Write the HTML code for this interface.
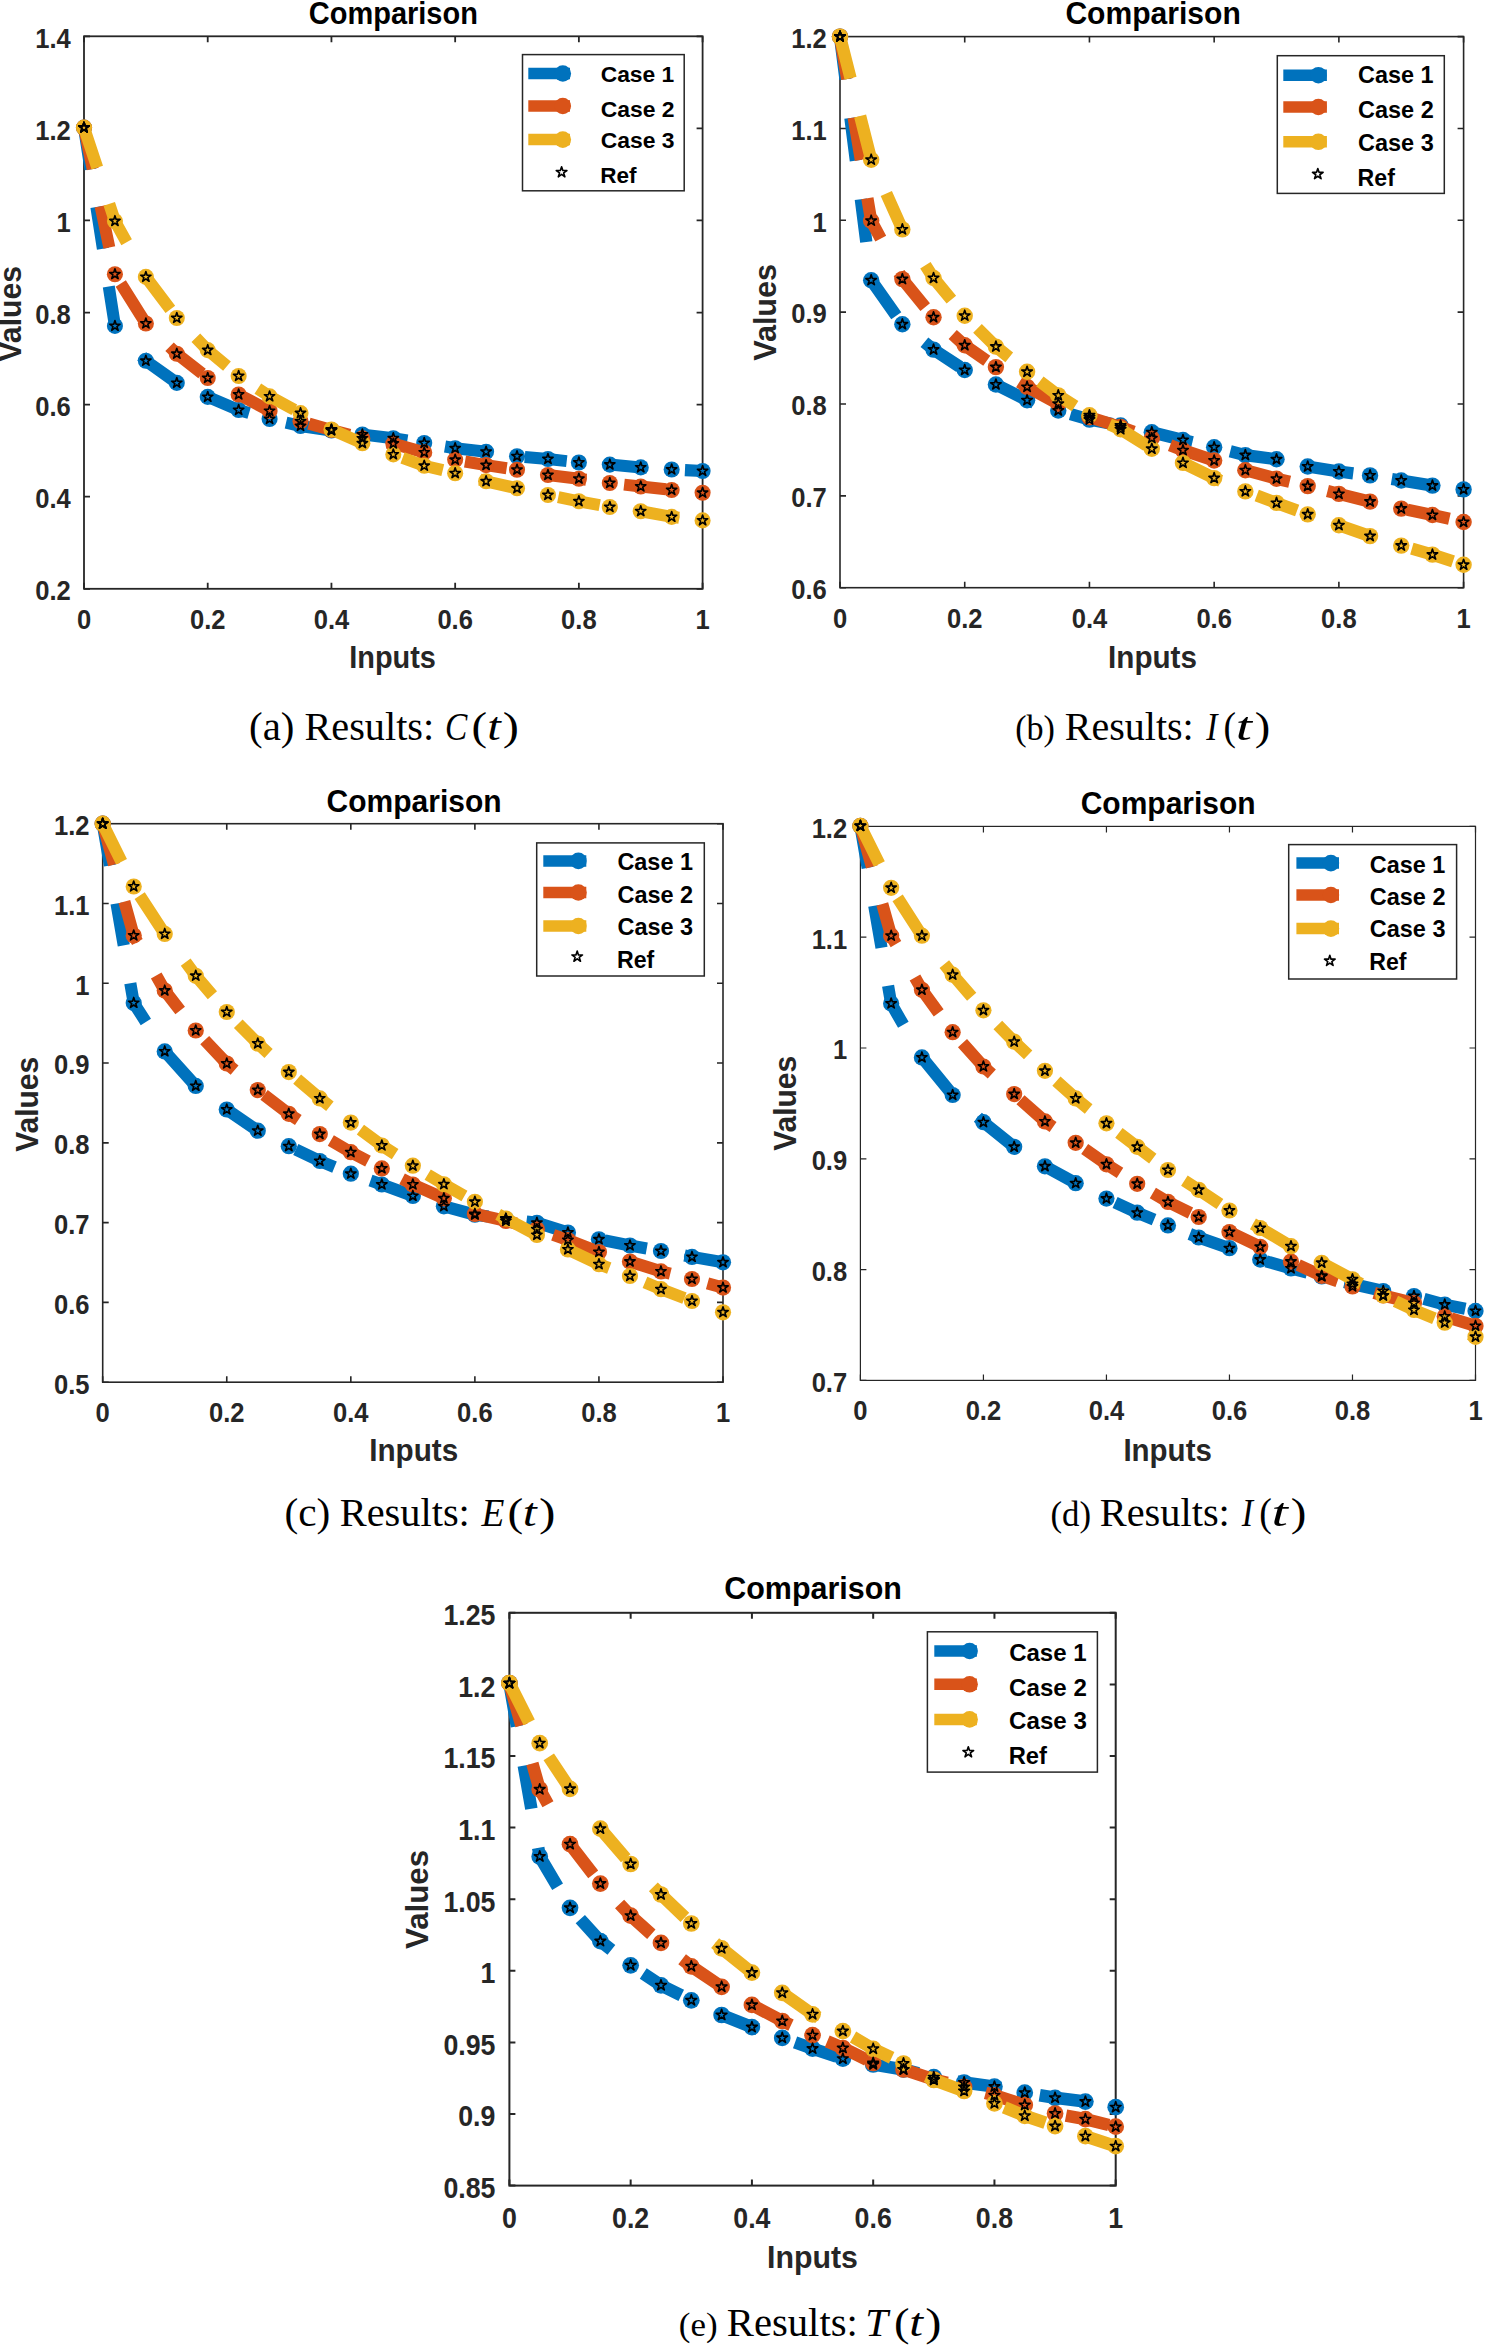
<!DOCTYPE html>
<html><head><meta charset="utf-8"><style>
html,body{margin:0;padding:0;background:#fff;}
svg{display:block;}
</style></head><body>
<svg width="1487" height="2345" viewBox="0 0 1487 2345">
<rect width="1487" height="2345" fill="#fff"/>
<rect x="84.00" y="36.30" width="618.60" height="552.50" fill="none" stroke="#262626" stroke-width="1.8"/>
<path d="M84.00,588.80V582.80M84.00,36.30V42.30M207.72,588.80V582.80M207.72,36.30V42.30M331.44,588.80V582.80M331.44,36.30V42.30M455.16,588.80V582.80M455.16,36.30V42.30M578.88,588.80V582.80M578.88,36.30V42.30M702.60,588.80V582.80M702.60,36.30V42.30M84.00,588.80H90.00M702.60,588.80H696.60M84.00,496.72H90.00M702.60,496.72H696.60M84.00,404.63H90.00M702.60,404.63H696.60M84.00,312.55H90.00M702.60,312.55H696.60M84.00,220.47H90.00M702.60,220.47H696.60M84.00,128.38H90.00M702.60,128.38H696.60M84.00,36.30H90.00M702.60,36.30H696.60" stroke="#262626" stroke-width="1.8" fill="none"/>
<polyline points="84.00,127.60 114.93,325.90 145.86,360.80 176.79,382.90 207.72,396.90 238.65,410.00 269.58,419.00 300.51,426.00 331.44,430.50 362.37,434.50 393.30,438.20 424.23,443.00 455.16,448.30 486.09,451.70 517.02,456.20 547.95,459.00 578.88,462.50 609.81,464.60 640.74,467.40 671.67,469.50 702.60,471.00" fill="none" stroke="#0072BD" stroke-width="12.06" stroke-dasharray="42.21 38.19" stroke-linecap="butt" stroke-linejoin="miter"/>
<circle cx="84.00" cy="127.60" r="8.04" fill="#0072BD"/>
<circle cx="114.93" cy="325.90" r="8.04" fill="#0072BD"/>
<circle cx="145.86" cy="360.80" r="8.04" fill="#0072BD"/>
<circle cx="176.79" cy="382.90" r="8.04" fill="#0072BD"/>
<circle cx="207.72" cy="396.90" r="8.04" fill="#0072BD"/>
<circle cx="238.65" cy="410.00" r="8.04" fill="#0072BD"/>
<circle cx="269.58" cy="419.00" r="8.04" fill="#0072BD"/>
<circle cx="300.51" cy="426.00" r="8.04" fill="#0072BD"/>
<circle cx="331.44" cy="430.50" r="8.04" fill="#0072BD"/>
<circle cx="362.37" cy="434.50" r="8.04" fill="#0072BD"/>
<circle cx="393.30" cy="438.20" r="8.04" fill="#0072BD"/>
<circle cx="424.23" cy="443.00" r="8.04" fill="#0072BD"/>
<circle cx="455.16" cy="448.30" r="8.04" fill="#0072BD"/>
<circle cx="486.09" cy="451.70" r="8.04" fill="#0072BD"/>
<circle cx="517.02" cy="456.20" r="8.04" fill="#0072BD"/>
<circle cx="547.95" cy="459.00" r="8.04" fill="#0072BD"/>
<circle cx="578.88" cy="462.50" r="8.04" fill="#0072BD"/>
<circle cx="609.81" cy="464.60" r="8.04" fill="#0072BD"/>
<circle cx="640.74" cy="467.40" r="8.04" fill="#0072BD"/>
<circle cx="671.67" cy="469.50" r="8.04" fill="#0072BD"/>
<circle cx="702.60" cy="471.00" r="8.04" fill="#0072BD"/>
<polyline points="84.00,127.60 114.93,274.20 145.86,323.50 176.79,353.80 207.72,378.00 238.65,394.50 269.58,410.90 300.51,421.30 331.44,430.00 362.37,438.40 393.30,443.60 424.23,452.40 455.16,459.80 486.09,465.10 517.02,469.70 547.95,475.00 578.88,478.70 609.81,483.00 640.74,486.50 671.67,490.00 702.60,492.80" fill="none" stroke="#D95319" stroke-width="12.06" stroke-dasharray="42.21 38.19" stroke-linecap="butt" stroke-linejoin="miter"/>
<circle cx="84.00" cy="127.60" r="8.04" fill="#D95319"/>
<circle cx="114.93" cy="274.20" r="8.04" fill="#D95319"/>
<circle cx="145.86" cy="323.50" r="8.04" fill="#D95319"/>
<circle cx="176.79" cy="353.80" r="8.04" fill="#D95319"/>
<circle cx="207.72" cy="378.00" r="8.04" fill="#D95319"/>
<circle cx="238.65" cy="394.50" r="8.04" fill="#D95319"/>
<circle cx="269.58" cy="410.90" r="8.04" fill="#D95319"/>
<circle cx="300.51" cy="421.30" r="8.04" fill="#D95319"/>
<circle cx="331.44" cy="430.00" r="8.04" fill="#D95319"/>
<circle cx="362.37" cy="438.40" r="8.04" fill="#D95319"/>
<circle cx="393.30" cy="443.60" r="8.04" fill="#D95319"/>
<circle cx="424.23" cy="452.40" r="8.04" fill="#D95319"/>
<circle cx="455.16" cy="459.80" r="8.04" fill="#D95319"/>
<circle cx="486.09" cy="465.10" r="8.04" fill="#D95319"/>
<circle cx="517.02" cy="469.70" r="8.04" fill="#D95319"/>
<circle cx="547.95" cy="475.00" r="8.04" fill="#D95319"/>
<circle cx="578.88" cy="478.70" r="8.04" fill="#D95319"/>
<circle cx="609.81" cy="483.00" r="8.04" fill="#D95319"/>
<circle cx="640.74" cy="486.50" r="8.04" fill="#D95319"/>
<circle cx="671.67" cy="490.00" r="8.04" fill="#D95319"/>
<circle cx="702.60" cy="492.80" r="8.04" fill="#D95319"/>
<polyline points="84.00,127.60 114.93,221.10 145.86,276.90 176.79,318.00 207.72,350.10 238.65,376.00 269.58,396.40 300.51,413.10 331.44,429.50 362.37,443.20 393.30,454.40 424.23,465.80 455.16,473.20 486.09,481.30 517.02,488.30 547.95,495.00 578.88,501.30 609.81,507.00 640.74,511.20 671.67,516.90 702.60,520.40" fill="none" stroke="#EDB120" stroke-width="12.06" stroke-dasharray="42.21 38.19" stroke-linecap="butt" stroke-linejoin="miter"/>
<circle cx="84.00" cy="127.60" r="8.04" fill="#EDB120"/>
<circle cx="114.93" cy="221.10" r="8.04" fill="#EDB120"/>
<circle cx="145.86" cy="276.90" r="8.04" fill="#EDB120"/>
<circle cx="176.79" cy="318.00" r="8.04" fill="#EDB120"/>
<circle cx="207.72" cy="350.10" r="8.04" fill="#EDB120"/>
<circle cx="238.65" cy="376.00" r="8.04" fill="#EDB120"/>
<circle cx="269.58" cy="396.40" r="8.04" fill="#EDB120"/>
<circle cx="300.51" cy="413.10" r="8.04" fill="#EDB120"/>
<circle cx="331.44" cy="429.50" r="8.04" fill="#EDB120"/>
<circle cx="362.37" cy="443.20" r="8.04" fill="#EDB120"/>
<circle cx="393.30" cy="454.40" r="8.04" fill="#EDB120"/>
<circle cx="424.23" cy="465.80" r="8.04" fill="#EDB120"/>
<circle cx="455.16" cy="473.20" r="8.04" fill="#EDB120"/>
<circle cx="486.09" cy="481.30" r="8.04" fill="#EDB120"/>
<circle cx="517.02" cy="488.30" r="8.04" fill="#EDB120"/>
<circle cx="547.95" cy="495.00" r="8.04" fill="#EDB120"/>
<circle cx="578.88" cy="501.30" r="8.04" fill="#EDB120"/>
<circle cx="609.81" cy="507.00" r="8.04" fill="#EDB120"/>
<circle cx="640.74" cy="511.20" r="8.04" fill="#EDB120"/>
<circle cx="671.67" cy="516.90" r="8.04" fill="#EDB120"/>
<circle cx="702.60" cy="520.40" r="8.04" fill="#EDB120"/>
<path d="M84.00,122.17 L85.22,125.92 L89.16,125.92 L85.97,128.24 L87.19,131.99 L84.00,129.67 L80.81,131.99 L82.03,128.24 L78.84,125.92 L82.78,125.92Z M114.93,320.47 L116.15,324.22 L120.09,324.22 L116.90,326.54 L118.12,330.29 L114.93,327.97 L111.74,330.29 L112.96,326.54 L109.77,324.22 L113.71,324.22Z M145.86,355.37 L147.08,359.12 L151.02,359.12 L147.83,361.44 L149.05,365.19 L145.86,362.87 L142.67,365.19 L143.89,361.44 L140.70,359.12 L144.64,359.12Z M176.79,377.47 L178.01,381.22 L181.95,381.22 L178.76,383.54 L179.98,387.29 L176.79,384.97 L173.60,387.29 L174.82,383.54 L171.63,381.22 L175.57,381.22Z M207.72,391.47 L208.94,395.22 L212.88,395.22 L209.69,397.54 L210.91,401.29 L207.72,398.97 L204.53,401.29 L205.75,397.54 L202.56,395.22 L206.50,395.22Z M238.65,404.57 L239.87,408.32 L243.81,408.32 L240.62,410.64 L241.84,414.39 L238.65,412.07 L235.46,414.39 L236.68,410.64 L233.49,408.32 L237.43,408.32Z M269.58,413.57 L270.80,417.32 L274.74,417.32 L271.55,419.64 L272.77,423.39 L269.58,421.07 L266.39,423.39 L267.61,419.64 L264.42,417.32 L268.36,417.32Z M300.51,420.57 L301.73,424.32 L305.67,424.32 L302.48,426.64 L303.70,430.39 L300.51,428.07 L297.32,430.39 L298.54,426.64 L295.35,424.32 L299.29,424.32Z M331.44,425.07 L332.66,428.82 L336.60,428.82 L333.41,431.14 L334.63,434.89 L331.44,432.57 L328.25,434.89 L329.47,431.14 L326.28,428.82 L330.22,428.82Z M362.37,429.07 L363.59,432.82 L367.53,432.82 L364.34,435.14 L365.56,438.89 L362.37,436.57 L359.18,438.89 L360.40,435.14 L357.21,432.82 L361.15,432.82Z M393.30,432.77 L394.52,436.52 L398.46,436.52 L395.27,438.84 L396.49,442.59 L393.30,440.27 L390.11,442.59 L391.33,438.84 L388.14,436.52 L392.08,436.52Z M424.23,437.57 L425.45,441.32 L429.39,441.32 L426.20,443.64 L427.42,447.39 L424.23,445.07 L421.04,447.39 L422.26,443.64 L419.07,441.32 L423.01,441.32Z M455.16,442.87 L456.38,446.62 L460.32,446.62 L457.13,448.94 L458.35,452.69 L455.16,450.37 L451.97,452.69 L453.19,448.94 L450.00,446.62 L453.94,446.62Z M486.09,446.27 L487.31,450.02 L491.25,450.02 L488.06,452.34 L489.28,456.09 L486.09,453.77 L482.90,456.09 L484.12,452.34 L480.93,450.02 L484.87,450.02Z M517.02,450.77 L518.24,454.52 L522.18,454.52 L518.99,456.84 L520.21,460.59 L517.02,458.27 L513.83,460.59 L515.05,456.84 L511.86,454.52 L515.80,454.52Z M547.95,453.57 L549.17,457.32 L553.11,457.32 L549.92,459.64 L551.14,463.39 L547.95,461.07 L544.76,463.39 L545.98,459.64 L542.79,457.32 L546.73,457.32Z M578.88,457.07 L580.10,460.82 L584.04,460.82 L580.85,463.14 L582.07,466.89 L578.88,464.57 L575.69,466.89 L576.91,463.14 L573.72,460.82 L577.66,460.82Z M609.81,459.17 L611.03,462.92 L614.97,462.92 L611.78,465.24 L613.00,468.99 L609.81,466.67 L606.62,468.99 L607.84,465.24 L604.65,462.92 L608.59,462.92Z M640.74,461.97 L641.96,465.72 L645.90,465.72 L642.71,468.04 L643.93,471.79 L640.74,469.47 L637.55,471.79 L638.77,468.04 L635.58,465.72 L639.52,465.72Z M671.67,464.07 L672.89,467.82 L676.83,467.82 L673.64,470.14 L674.86,473.89 L671.67,471.57 L668.48,473.89 L669.70,470.14 L666.51,467.82 L670.45,467.82Z M702.60,465.57 L703.82,469.32 L707.76,469.32 L704.57,471.64 L705.79,475.39 L702.60,473.07 L699.41,475.39 L700.63,471.64 L697.44,469.32 L701.38,469.32Z" fill="none" stroke="#000" stroke-width="1.6" stroke-linejoin="round"/>
<path d="M84.00,122.17 L85.22,125.92 L89.16,125.92 L85.97,128.24 L87.19,131.99 L84.00,129.67 L80.81,131.99 L82.03,128.24 L78.84,125.92 L82.78,125.92Z M114.93,268.77 L116.15,272.52 L120.09,272.52 L116.90,274.84 L118.12,278.59 L114.93,276.27 L111.74,278.59 L112.96,274.84 L109.77,272.52 L113.71,272.52Z M145.86,318.07 L147.08,321.82 L151.02,321.82 L147.83,324.14 L149.05,327.89 L145.86,325.57 L142.67,327.89 L143.89,324.14 L140.70,321.82 L144.64,321.82Z M176.79,348.37 L178.01,352.12 L181.95,352.12 L178.76,354.44 L179.98,358.19 L176.79,355.87 L173.60,358.19 L174.82,354.44 L171.63,352.12 L175.57,352.12Z M207.72,372.57 L208.94,376.32 L212.88,376.32 L209.69,378.64 L210.91,382.39 L207.72,380.07 L204.53,382.39 L205.75,378.64 L202.56,376.32 L206.50,376.32Z M238.65,389.07 L239.87,392.82 L243.81,392.82 L240.62,395.14 L241.84,398.89 L238.65,396.57 L235.46,398.89 L236.68,395.14 L233.49,392.82 L237.43,392.82Z M269.58,405.47 L270.80,409.22 L274.74,409.22 L271.55,411.54 L272.77,415.29 L269.58,412.97 L266.39,415.29 L267.61,411.54 L264.42,409.22 L268.36,409.22Z M300.51,415.87 L301.73,419.62 L305.67,419.62 L302.48,421.94 L303.70,425.69 L300.51,423.37 L297.32,425.69 L298.54,421.94 L295.35,419.62 L299.29,419.62Z M331.44,424.57 L332.66,428.32 L336.60,428.32 L333.41,430.64 L334.63,434.39 L331.44,432.07 L328.25,434.39 L329.47,430.64 L326.28,428.32 L330.22,428.32Z M362.37,432.97 L363.59,436.72 L367.53,436.72 L364.34,439.04 L365.56,442.79 L362.37,440.47 L359.18,442.79 L360.40,439.04 L357.21,436.72 L361.15,436.72Z M393.30,438.17 L394.52,441.92 L398.46,441.92 L395.27,444.24 L396.49,447.99 L393.30,445.67 L390.11,447.99 L391.33,444.24 L388.14,441.92 L392.08,441.92Z M424.23,446.97 L425.45,450.72 L429.39,450.72 L426.20,453.04 L427.42,456.79 L424.23,454.47 L421.04,456.79 L422.26,453.04 L419.07,450.72 L423.01,450.72Z M455.16,454.37 L456.38,458.12 L460.32,458.12 L457.13,460.44 L458.35,464.19 L455.16,461.87 L451.97,464.19 L453.19,460.44 L450.00,458.12 L453.94,458.12Z M486.09,459.67 L487.31,463.42 L491.25,463.42 L488.06,465.74 L489.28,469.49 L486.09,467.17 L482.90,469.49 L484.12,465.74 L480.93,463.42 L484.87,463.42Z M517.02,464.27 L518.24,468.02 L522.18,468.02 L518.99,470.34 L520.21,474.09 L517.02,471.77 L513.83,474.09 L515.05,470.34 L511.86,468.02 L515.80,468.02Z M547.95,469.57 L549.17,473.32 L553.11,473.32 L549.92,475.64 L551.14,479.39 L547.95,477.07 L544.76,479.39 L545.98,475.64 L542.79,473.32 L546.73,473.32Z M578.88,473.27 L580.10,477.02 L584.04,477.02 L580.85,479.34 L582.07,483.09 L578.88,480.77 L575.69,483.09 L576.91,479.34 L573.72,477.02 L577.66,477.02Z M609.81,477.57 L611.03,481.32 L614.97,481.32 L611.78,483.64 L613.00,487.39 L609.81,485.07 L606.62,487.39 L607.84,483.64 L604.65,481.32 L608.59,481.32Z M640.74,481.07 L641.96,484.82 L645.90,484.82 L642.71,487.14 L643.93,490.89 L640.74,488.57 L637.55,490.89 L638.77,487.14 L635.58,484.82 L639.52,484.82Z M671.67,484.57 L672.89,488.32 L676.83,488.32 L673.64,490.64 L674.86,494.39 L671.67,492.07 L668.48,494.39 L669.70,490.64 L666.51,488.32 L670.45,488.32Z M702.60,487.37 L703.82,491.12 L707.76,491.12 L704.57,493.44 L705.79,497.19 L702.60,494.87 L699.41,497.19 L700.63,493.44 L697.44,491.12 L701.38,491.12Z" fill="none" stroke="#000" stroke-width="1.6" stroke-linejoin="round"/>
<path d="M84.00,122.17 L85.22,125.92 L89.16,125.92 L85.97,128.24 L87.19,131.99 L84.00,129.67 L80.81,131.99 L82.03,128.24 L78.84,125.92 L82.78,125.92Z M114.93,215.67 L116.15,219.42 L120.09,219.42 L116.90,221.74 L118.12,225.49 L114.93,223.17 L111.74,225.49 L112.96,221.74 L109.77,219.42 L113.71,219.42Z M145.86,271.47 L147.08,275.22 L151.02,275.22 L147.83,277.54 L149.05,281.29 L145.86,278.97 L142.67,281.29 L143.89,277.54 L140.70,275.22 L144.64,275.22Z M176.79,312.57 L178.01,316.32 L181.95,316.32 L178.76,318.64 L179.98,322.39 L176.79,320.07 L173.60,322.39 L174.82,318.64 L171.63,316.32 L175.57,316.32Z M207.72,344.67 L208.94,348.42 L212.88,348.42 L209.69,350.74 L210.91,354.49 L207.72,352.17 L204.53,354.49 L205.75,350.74 L202.56,348.42 L206.50,348.42Z M238.65,370.57 L239.87,374.32 L243.81,374.32 L240.62,376.64 L241.84,380.39 L238.65,378.07 L235.46,380.39 L236.68,376.64 L233.49,374.32 L237.43,374.32Z M269.58,390.97 L270.80,394.72 L274.74,394.72 L271.55,397.04 L272.77,400.79 L269.58,398.47 L266.39,400.79 L267.61,397.04 L264.42,394.72 L268.36,394.72Z M300.51,407.67 L301.73,411.42 L305.67,411.42 L302.48,413.74 L303.70,417.49 L300.51,415.17 L297.32,417.49 L298.54,413.74 L295.35,411.42 L299.29,411.42Z M331.44,424.07 L332.66,427.82 L336.60,427.82 L333.41,430.14 L334.63,433.89 L331.44,431.57 L328.25,433.89 L329.47,430.14 L326.28,427.82 L330.22,427.82Z M362.37,437.77 L363.59,441.52 L367.53,441.52 L364.34,443.84 L365.56,447.59 L362.37,445.27 L359.18,447.59 L360.40,443.84 L357.21,441.52 L361.15,441.52Z M393.30,448.97 L394.52,452.72 L398.46,452.72 L395.27,455.04 L396.49,458.79 L393.30,456.47 L390.11,458.79 L391.33,455.04 L388.14,452.72 L392.08,452.72Z M424.23,460.37 L425.45,464.12 L429.39,464.12 L426.20,466.44 L427.42,470.19 L424.23,467.87 L421.04,470.19 L422.26,466.44 L419.07,464.12 L423.01,464.12Z M455.16,467.77 L456.38,471.52 L460.32,471.52 L457.13,473.84 L458.35,477.59 L455.16,475.27 L451.97,477.59 L453.19,473.84 L450.00,471.52 L453.94,471.52Z M486.09,475.87 L487.31,479.62 L491.25,479.62 L488.06,481.94 L489.28,485.69 L486.09,483.37 L482.90,485.69 L484.12,481.94 L480.93,479.62 L484.87,479.62Z M517.02,482.87 L518.24,486.62 L522.18,486.62 L518.99,488.94 L520.21,492.69 L517.02,490.37 L513.83,492.69 L515.05,488.94 L511.86,486.62 L515.80,486.62Z M547.95,489.57 L549.17,493.32 L553.11,493.32 L549.92,495.64 L551.14,499.39 L547.95,497.07 L544.76,499.39 L545.98,495.64 L542.79,493.32 L546.73,493.32Z M578.88,495.87 L580.10,499.62 L584.04,499.62 L580.85,501.94 L582.07,505.69 L578.88,503.37 L575.69,505.69 L576.91,501.94 L573.72,499.62 L577.66,499.62Z M609.81,501.57 L611.03,505.32 L614.97,505.32 L611.78,507.64 L613.00,511.39 L609.81,509.07 L606.62,511.39 L607.84,507.64 L604.65,505.32 L608.59,505.32Z M640.74,505.77 L641.96,509.52 L645.90,509.52 L642.71,511.84 L643.93,515.59 L640.74,513.27 L637.55,515.59 L638.77,511.84 L635.58,509.52 L639.52,509.52Z M671.67,511.47 L672.89,515.22 L676.83,515.22 L673.64,517.54 L674.86,521.29 L671.67,518.97 L668.48,521.29 L669.70,517.54 L666.51,515.22 L670.45,515.22Z M702.60,514.97 L703.82,518.72 L707.76,518.72 L704.57,521.04 L705.79,524.79 L702.60,522.47 L699.41,524.79 L700.63,521.04 L697.44,518.72 L701.38,518.72Z" fill="none" stroke="#000" stroke-width="1.6" stroke-linejoin="round"/>
<rect x="522.50" y="54.60" width="161.70" height="136.20" fill="#fff" stroke="#262626" stroke-width="1.5"/>
<line x1="528.30" y1="73.50" x2="570.00" y2="73.50" stroke="#0072BD" stroke-width="11.5"/>
<circle cx="562.80" cy="73.50" r="8.3" fill="#0072BD"/>
<line x1="528.30" y1="106.00" x2="570.00" y2="106.00" stroke="#D95319" stroke-width="11.5"/>
<circle cx="562.80" cy="106.00" r="8.3" fill="#D95319"/>
<line x1="528.30" y1="139.60" x2="570.00" y2="139.60" stroke="#EDB120" stroke-width="11.5"/>
<circle cx="562.80" cy="139.60" r="8.3" fill="#EDB120"/>
<path d="M561.60,166.70 L562.86,170.57 L566.93,170.57 L563.63,172.96 L564.89,176.83 L561.60,174.44 L558.31,176.83 L559.57,172.96 L556.27,170.57 L560.34,170.57Z" fill="none" stroke="#000" stroke-width="1.6" stroke-linejoin="round"/>
<rect x="840.00" y="36.60" width="623.60" height="551.10" fill="none" stroke="#262626" stroke-width="1.6"/>
<path d="M840.00,587.70V581.70M840.00,36.60V42.60M964.72,587.70V581.70M964.72,36.60V42.60M1089.44,587.70V581.70M1089.44,36.60V42.60M1214.16,587.70V581.70M1214.16,36.60V42.60M1338.88,587.70V581.70M1338.88,36.60V42.60M1463.60,587.70V581.70M1463.60,36.60V42.60M840.00,587.70H846.00M1463.60,587.70H1457.60M840.00,495.85H846.00M1463.60,495.85H1457.60M840.00,404.00H846.00M1463.60,404.00H1457.60M840.00,312.15H846.00M1463.60,312.15H1457.60M840.00,220.30H846.00M1463.60,220.30H1457.60M840.00,128.45H846.00M1463.60,128.45H1457.60M840.00,36.60H846.00M1463.60,36.60H1457.60" stroke="#262626" stroke-width="1.6" fill="none"/>
<polyline points="840.00,36.60 871.18,280.20 902.36,324.30 933.54,349.60 964.72,370.00 995.90,384.50 1027.08,400.20 1058.26,410.50 1089.44,419.60 1120.62,425.50 1151.80,432.20 1182.98,440.00 1214.16,447.20 1245.34,455.10 1276.52,459.30 1307.70,466.50 1338.88,471.50 1370.06,475.40 1401.24,480.50 1432.42,485.60 1463.60,489.40" fill="none" stroke="#0072BD" stroke-width="12.30" stroke-dasharray="43.05 38.95" stroke-linecap="butt" stroke-linejoin="miter"/>
<circle cx="840.00" cy="36.60" r="8.20" fill="#0072BD"/>
<circle cx="871.18" cy="280.20" r="8.20" fill="#0072BD"/>
<circle cx="902.36" cy="324.30" r="8.20" fill="#0072BD"/>
<circle cx="933.54" cy="349.60" r="8.20" fill="#0072BD"/>
<circle cx="964.72" cy="370.00" r="8.20" fill="#0072BD"/>
<circle cx="995.90" cy="384.50" r="8.20" fill="#0072BD"/>
<circle cx="1027.08" cy="400.20" r="8.20" fill="#0072BD"/>
<circle cx="1058.26" cy="410.50" r="8.20" fill="#0072BD"/>
<circle cx="1089.44" cy="419.60" r="8.20" fill="#0072BD"/>
<circle cx="1120.62" cy="425.50" r="8.20" fill="#0072BD"/>
<circle cx="1151.80" cy="432.20" r="8.20" fill="#0072BD"/>
<circle cx="1182.98" cy="440.00" r="8.20" fill="#0072BD"/>
<circle cx="1214.16" cy="447.20" r="8.20" fill="#0072BD"/>
<circle cx="1245.34" cy="455.10" r="8.20" fill="#0072BD"/>
<circle cx="1276.52" cy="459.30" r="8.20" fill="#0072BD"/>
<circle cx="1307.70" cy="466.50" r="8.20" fill="#0072BD"/>
<circle cx="1338.88" cy="471.50" r="8.20" fill="#0072BD"/>
<circle cx="1370.06" cy="475.40" r="8.20" fill="#0072BD"/>
<circle cx="1401.24" cy="480.50" r="8.20" fill="#0072BD"/>
<circle cx="1432.42" cy="485.60" r="8.20" fill="#0072BD"/>
<circle cx="1463.60" cy="489.40" r="8.20" fill="#0072BD"/>
<polyline points="840.00,36.60 871.18,220.70 902.36,279.10 933.54,317.30 964.72,345.30 995.90,367.10 1027.08,386.90 1058.26,403.80 1089.44,417.20 1120.62,427.00 1151.80,438.20 1182.98,450.20 1214.16,460.50 1245.34,470.20 1276.52,478.70 1307.70,486.10 1338.88,493.90 1370.06,501.60 1401.24,508.60 1432.42,515.00 1463.60,522.00" fill="none" stroke="#D95319" stroke-width="12.30" stroke-dasharray="43.05 38.95" stroke-linecap="butt" stroke-linejoin="miter"/>
<circle cx="840.00" cy="36.60" r="8.20" fill="#D95319"/>
<circle cx="871.18" cy="220.70" r="8.20" fill="#D95319"/>
<circle cx="902.36" cy="279.10" r="8.20" fill="#D95319"/>
<circle cx="933.54" cy="317.30" r="8.20" fill="#D95319"/>
<circle cx="964.72" cy="345.30" r="8.20" fill="#D95319"/>
<circle cx="995.90" cy="367.10" r="8.20" fill="#D95319"/>
<circle cx="1027.08" cy="386.90" r="8.20" fill="#D95319"/>
<circle cx="1058.26" cy="403.80" r="8.20" fill="#D95319"/>
<circle cx="1089.44" cy="417.20" r="8.20" fill="#D95319"/>
<circle cx="1120.62" cy="427.00" r="8.20" fill="#D95319"/>
<circle cx="1151.80" cy="438.20" r="8.20" fill="#D95319"/>
<circle cx="1182.98" cy="450.20" r="8.20" fill="#D95319"/>
<circle cx="1214.16" cy="460.50" r="8.20" fill="#D95319"/>
<circle cx="1245.34" cy="470.20" r="8.20" fill="#D95319"/>
<circle cx="1276.52" cy="478.70" r="8.20" fill="#D95319"/>
<circle cx="1307.70" cy="486.10" r="8.20" fill="#D95319"/>
<circle cx="1338.88" cy="493.90" r="8.20" fill="#D95319"/>
<circle cx="1370.06" cy="501.60" r="8.20" fill="#D95319"/>
<circle cx="1401.24" cy="508.60" r="8.20" fill="#D95319"/>
<circle cx="1432.42" cy="515.00" r="8.20" fill="#D95319"/>
<circle cx="1463.60" cy="522.00" r="8.20" fill="#D95319"/>
<polyline points="840.00,36.60 871.18,159.70 902.36,229.40 933.54,278.00 964.72,315.70 995.90,346.60 1027.08,371.80 1058.26,395.40 1089.44,415.30 1120.62,429.30 1151.80,448.80 1182.98,462.90 1214.16,478.10 1245.34,491.40 1276.52,502.90 1307.70,514.35 1338.88,525.20 1370.06,536.10 1401.24,545.60 1432.42,554.60 1463.60,564.80" fill="none" stroke="#EDB120" stroke-width="12.30" stroke-dasharray="43.05 38.95" stroke-linecap="butt" stroke-linejoin="miter"/>
<circle cx="840.00" cy="36.60" r="8.20" fill="#EDB120"/>
<circle cx="871.18" cy="159.70" r="8.20" fill="#EDB120"/>
<circle cx="902.36" cy="229.40" r="8.20" fill="#EDB120"/>
<circle cx="933.54" cy="278.00" r="8.20" fill="#EDB120"/>
<circle cx="964.72" cy="315.70" r="8.20" fill="#EDB120"/>
<circle cx="995.90" cy="346.60" r="8.20" fill="#EDB120"/>
<circle cx="1027.08" cy="371.80" r="8.20" fill="#EDB120"/>
<circle cx="1058.26" cy="395.40" r="8.20" fill="#EDB120"/>
<circle cx="1089.44" cy="415.30" r="8.20" fill="#EDB120"/>
<circle cx="1120.62" cy="429.30" r="8.20" fill="#EDB120"/>
<circle cx="1151.80" cy="448.80" r="8.20" fill="#EDB120"/>
<circle cx="1182.98" cy="462.90" r="8.20" fill="#EDB120"/>
<circle cx="1214.16" cy="478.10" r="8.20" fill="#EDB120"/>
<circle cx="1245.34" cy="491.40" r="8.20" fill="#EDB120"/>
<circle cx="1276.52" cy="502.90" r="8.20" fill="#EDB120"/>
<circle cx="1307.70" cy="514.35" r="8.20" fill="#EDB120"/>
<circle cx="1338.88" cy="525.20" r="8.20" fill="#EDB120"/>
<circle cx="1370.06" cy="536.10" r="8.20" fill="#EDB120"/>
<circle cx="1401.24" cy="545.60" r="8.20" fill="#EDB120"/>
<circle cx="1432.42" cy="554.60" r="8.20" fill="#EDB120"/>
<circle cx="1463.60" cy="564.80" r="8.20" fill="#EDB120"/>
<path d="M840.00,31.07 L841.24,34.89 L845.26,34.89 L842.01,37.25 L843.25,41.08 L840.00,38.71 L836.75,41.08 L837.99,37.25 L834.74,34.89 L838.76,34.89Z M871.18,274.66 L872.42,278.49 L876.44,278.49 L873.19,280.85 L874.43,284.68 L871.18,282.31 L867.93,284.68 L869.17,280.85 L865.92,278.49 L869.94,278.49Z M902.36,318.76 L903.60,322.59 L907.62,322.59 L904.37,324.95 L905.61,328.78 L902.36,326.41 L899.11,328.78 L900.35,324.95 L897.10,322.59 L901.12,322.59Z M933.54,344.06 L934.78,347.89 L938.80,347.89 L935.55,350.25 L936.79,354.08 L933.54,351.71 L930.29,354.08 L931.53,350.25 L928.28,347.89 L932.30,347.89Z M964.72,364.46 L965.96,368.29 L969.98,368.29 L966.73,370.65 L967.97,374.48 L964.72,372.11 L961.47,374.48 L962.71,370.65 L959.46,368.29 L963.48,368.29Z M995.90,378.96 L997.14,382.79 L1001.16,382.79 L997.91,385.15 L999.15,388.98 L995.90,386.61 L992.65,388.98 L993.89,385.15 L990.64,382.79 L994.66,382.79Z M1027.08,394.66 L1028.32,398.49 L1032.34,398.49 L1029.09,400.85 L1030.33,404.68 L1027.08,402.31 L1023.83,404.68 L1025.07,400.85 L1021.82,398.49 L1025.84,398.49Z M1058.26,404.96 L1059.50,408.79 L1063.52,408.79 L1060.27,411.15 L1061.51,414.98 L1058.26,412.61 L1055.01,414.98 L1056.25,411.15 L1053.00,408.79 L1057.02,408.79Z M1089.44,414.06 L1090.68,417.89 L1094.70,417.89 L1091.45,420.25 L1092.69,424.08 L1089.44,421.71 L1086.19,424.08 L1087.43,420.25 L1084.18,417.89 L1088.20,417.89Z M1120.62,419.96 L1121.86,423.79 L1125.88,423.79 L1122.63,426.15 L1123.87,429.98 L1120.62,427.61 L1117.37,429.98 L1118.61,426.15 L1115.36,423.79 L1119.38,423.79Z M1151.80,426.66 L1153.04,430.49 L1157.06,430.49 L1153.81,432.85 L1155.05,436.68 L1151.80,434.31 L1148.55,436.68 L1149.79,432.85 L1146.54,430.49 L1150.56,430.49Z M1182.98,434.46 L1184.22,438.29 L1188.24,438.29 L1184.99,440.65 L1186.23,444.48 L1182.98,442.11 L1179.73,444.48 L1180.97,440.65 L1177.72,438.29 L1181.74,438.29Z M1214.16,441.66 L1215.40,445.49 L1219.42,445.49 L1216.17,447.85 L1217.41,451.68 L1214.16,449.31 L1210.91,451.68 L1212.15,447.85 L1208.90,445.49 L1212.92,445.49Z M1245.34,449.56 L1246.58,453.39 L1250.60,453.39 L1247.35,455.75 L1248.59,459.58 L1245.34,457.21 L1242.09,459.58 L1243.33,455.75 L1240.08,453.39 L1244.10,453.39Z M1276.52,453.76 L1277.76,457.59 L1281.78,457.59 L1278.53,459.95 L1279.77,463.78 L1276.52,461.41 L1273.27,463.78 L1274.51,459.95 L1271.26,457.59 L1275.28,457.59Z M1307.70,460.96 L1308.94,464.79 L1312.96,464.79 L1309.71,467.15 L1310.95,470.98 L1307.70,468.61 L1304.45,470.98 L1305.69,467.15 L1302.44,464.79 L1306.46,464.79Z M1338.88,465.96 L1340.12,469.79 L1344.14,469.79 L1340.89,472.15 L1342.13,475.98 L1338.88,473.61 L1335.63,475.98 L1336.87,472.15 L1333.62,469.79 L1337.64,469.79Z M1370.06,469.86 L1371.30,473.69 L1375.32,473.69 L1372.07,476.05 L1373.31,479.88 L1370.06,477.51 L1366.81,479.88 L1368.05,476.05 L1364.80,473.69 L1368.82,473.69Z M1401.24,474.96 L1402.48,478.79 L1406.50,478.79 L1403.25,481.15 L1404.49,484.98 L1401.24,482.61 L1397.99,484.98 L1399.23,481.15 L1395.98,478.79 L1400.00,478.79Z M1432.42,480.06 L1433.66,483.89 L1437.68,483.89 L1434.43,486.25 L1435.67,490.08 L1432.42,487.71 L1429.17,490.08 L1430.41,486.25 L1427.16,483.89 L1431.18,483.89Z M1463.60,483.86 L1464.84,487.69 L1468.86,487.69 L1465.61,490.05 L1466.85,493.88 L1463.60,491.51 L1460.35,493.88 L1461.59,490.05 L1458.34,487.69 L1462.36,487.69Z" fill="none" stroke="#000" stroke-width="1.6" stroke-linejoin="round"/>
<path d="M840.00,31.07 L841.24,34.89 L845.26,34.89 L842.01,37.25 L843.25,41.08 L840.00,38.71 L836.75,41.08 L837.99,37.25 L834.74,34.89 L838.76,34.89Z M871.18,215.16 L872.42,218.99 L876.44,218.99 L873.19,221.35 L874.43,225.18 L871.18,222.81 L867.93,225.18 L869.17,221.35 L865.92,218.99 L869.94,218.99Z M902.36,273.56 L903.60,277.39 L907.62,277.39 L904.37,279.75 L905.61,283.58 L902.36,281.21 L899.11,283.58 L900.35,279.75 L897.10,277.39 L901.12,277.39Z M933.54,311.76 L934.78,315.59 L938.80,315.59 L935.55,317.95 L936.79,321.78 L933.54,319.41 L930.29,321.78 L931.53,317.95 L928.28,315.59 L932.30,315.59Z M964.72,339.76 L965.96,343.59 L969.98,343.59 L966.73,345.95 L967.97,349.78 L964.72,347.41 L961.47,349.78 L962.71,345.95 L959.46,343.59 L963.48,343.59Z M995.90,361.56 L997.14,365.39 L1001.16,365.39 L997.91,367.75 L999.15,371.58 L995.90,369.21 L992.65,371.58 L993.89,367.75 L990.64,365.39 L994.66,365.39Z M1027.08,381.36 L1028.32,385.19 L1032.34,385.19 L1029.09,387.55 L1030.33,391.38 L1027.08,389.01 L1023.83,391.38 L1025.07,387.55 L1021.82,385.19 L1025.84,385.19Z M1058.26,398.26 L1059.50,402.09 L1063.52,402.09 L1060.27,404.45 L1061.51,408.28 L1058.26,405.91 L1055.01,408.28 L1056.25,404.45 L1053.00,402.09 L1057.02,402.09Z M1089.44,411.66 L1090.68,415.49 L1094.70,415.49 L1091.45,417.85 L1092.69,421.68 L1089.44,419.31 L1086.19,421.68 L1087.43,417.85 L1084.18,415.49 L1088.20,415.49Z M1120.62,421.46 L1121.86,425.29 L1125.88,425.29 L1122.63,427.65 L1123.87,431.48 L1120.62,429.11 L1117.37,431.48 L1118.61,427.65 L1115.36,425.29 L1119.38,425.29Z M1151.80,432.66 L1153.04,436.49 L1157.06,436.49 L1153.81,438.85 L1155.05,442.68 L1151.80,440.31 L1148.55,442.68 L1149.79,438.85 L1146.54,436.49 L1150.56,436.49Z M1182.98,444.66 L1184.22,448.49 L1188.24,448.49 L1184.99,450.85 L1186.23,454.68 L1182.98,452.31 L1179.73,454.68 L1180.97,450.85 L1177.72,448.49 L1181.74,448.49Z M1214.16,454.96 L1215.40,458.79 L1219.42,458.79 L1216.17,461.15 L1217.41,464.98 L1214.16,462.61 L1210.91,464.98 L1212.15,461.15 L1208.90,458.79 L1212.92,458.79Z M1245.34,464.66 L1246.58,468.49 L1250.60,468.49 L1247.35,470.85 L1248.59,474.68 L1245.34,472.31 L1242.09,474.68 L1243.33,470.85 L1240.08,468.49 L1244.10,468.49Z M1276.52,473.16 L1277.76,476.99 L1281.78,476.99 L1278.53,479.35 L1279.77,483.18 L1276.52,480.81 L1273.27,483.18 L1274.51,479.35 L1271.26,476.99 L1275.28,476.99Z M1307.70,480.56 L1308.94,484.39 L1312.96,484.39 L1309.71,486.75 L1310.95,490.58 L1307.70,488.21 L1304.45,490.58 L1305.69,486.75 L1302.44,484.39 L1306.46,484.39Z M1338.88,488.36 L1340.12,492.19 L1344.14,492.19 L1340.89,494.55 L1342.13,498.38 L1338.88,496.01 L1335.63,498.38 L1336.87,494.55 L1333.62,492.19 L1337.64,492.19Z M1370.06,496.06 L1371.30,499.89 L1375.32,499.89 L1372.07,502.25 L1373.31,506.08 L1370.06,503.71 L1366.81,506.08 L1368.05,502.25 L1364.80,499.89 L1368.82,499.89Z M1401.24,503.06 L1402.48,506.89 L1406.50,506.89 L1403.25,509.25 L1404.49,513.08 L1401.24,510.71 L1397.99,513.08 L1399.23,509.25 L1395.98,506.89 L1400.00,506.89Z M1432.42,509.46 L1433.66,513.29 L1437.68,513.29 L1434.43,515.65 L1435.67,519.48 L1432.42,517.11 L1429.17,519.48 L1430.41,515.65 L1427.16,513.29 L1431.18,513.29Z M1463.60,516.47 L1464.84,520.29 L1468.86,520.29 L1465.61,522.65 L1466.85,526.48 L1463.60,524.11 L1460.35,526.48 L1461.59,522.65 L1458.34,520.29 L1462.36,520.29Z" fill="none" stroke="#000" stroke-width="1.6" stroke-linejoin="round"/>
<path d="M840.00,31.07 L841.24,34.89 L845.26,34.89 L842.01,37.25 L843.25,41.08 L840.00,38.71 L836.75,41.08 L837.99,37.25 L834.74,34.89 L838.76,34.89Z M871.18,154.16 L872.42,157.99 L876.44,157.99 L873.19,160.35 L874.43,164.18 L871.18,161.81 L867.93,164.18 L869.17,160.35 L865.92,157.99 L869.94,157.99Z M902.36,223.87 L903.60,227.69 L907.62,227.69 L904.37,230.05 L905.61,233.88 L902.36,231.51 L899.11,233.88 L900.35,230.05 L897.10,227.69 L901.12,227.69Z M933.54,272.46 L934.78,276.29 L938.80,276.29 L935.55,278.65 L936.79,282.48 L933.54,280.11 L930.29,282.48 L931.53,278.65 L928.28,276.29 L932.30,276.29Z M964.72,310.16 L965.96,313.99 L969.98,313.99 L966.73,316.35 L967.97,320.18 L964.72,317.81 L961.47,320.18 L962.71,316.35 L959.46,313.99 L963.48,313.99Z M995.90,341.06 L997.14,344.89 L1001.16,344.89 L997.91,347.25 L999.15,351.08 L995.90,348.71 L992.65,351.08 L993.89,347.25 L990.64,344.89 L994.66,344.89Z M1027.08,366.26 L1028.32,370.09 L1032.34,370.09 L1029.09,372.45 L1030.33,376.28 L1027.08,373.91 L1023.83,376.28 L1025.07,372.45 L1021.82,370.09 L1025.84,370.09Z M1058.26,389.86 L1059.50,393.69 L1063.52,393.69 L1060.27,396.05 L1061.51,399.88 L1058.26,397.51 L1055.01,399.88 L1056.25,396.05 L1053.00,393.69 L1057.02,393.69Z M1089.44,409.76 L1090.68,413.59 L1094.70,413.59 L1091.45,415.95 L1092.69,419.78 L1089.44,417.41 L1086.19,419.78 L1087.43,415.95 L1084.18,413.59 L1088.20,413.59Z M1120.62,423.76 L1121.86,427.59 L1125.88,427.59 L1122.63,429.95 L1123.87,433.78 L1120.62,431.41 L1117.37,433.78 L1118.61,429.95 L1115.36,427.59 L1119.38,427.59Z M1151.80,443.26 L1153.04,447.09 L1157.06,447.09 L1153.81,449.45 L1155.05,453.28 L1151.80,450.91 L1148.55,453.28 L1149.79,449.45 L1146.54,447.09 L1150.56,447.09Z M1182.98,457.36 L1184.22,461.19 L1188.24,461.19 L1184.99,463.55 L1186.23,467.38 L1182.98,465.01 L1179.73,467.38 L1180.97,463.55 L1177.72,461.19 L1181.74,461.19Z M1214.16,472.56 L1215.40,476.39 L1219.42,476.39 L1216.17,478.75 L1217.41,482.58 L1214.16,480.21 L1210.91,482.58 L1212.15,478.75 L1208.90,476.39 L1212.92,476.39Z M1245.34,485.86 L1246.58,489.69 L1250.60,489.69 L1247.35,492.05 L1248.59,495.88 L1245.34,493.51 L1242.09,495.88 L1243.33,492.05 L1240.08,489.69 L1244.10,489.69Z M1276.52,497.36 L1277.76,501.19 L1281.78,501.19 L1278.53,503.55 L1279.77,507.38 L1276.52,505.01 L1273.27,507.38 L1274.51,503.55 L1271.26,501.19 L1275.28,501.19Z M1307.70,508.81 L1308.94,512.64 L1312.96,512.64 L1309.71,515.00 L1310.95,518.83 L1307.70,516.46 L1304.45,518.83 L1305.69,515.00 L1302.44,512.64 L1306.46,512.64Z M1338.88,519.67 L1340.12,523.49 L1344.14,523.49 L1340.89,525.85 L1342.13,529.68 L1338.88,527.31 L1335.63,529.68 L1336.87,525.85 L1333.62,523.49 L1337.64,523.49Z M1370.06,530.57 L1371.30,534.39 L1375.32,534.39 L1372.07,536.75 L1373.31,540.58 L1370.06,538.21 L1366.81,540.58 L1368.05,536.75 L1364.80,534.39 L1368.82,534.39Z M1401.24,540.07 L1402.48,543.89 L1406.50,543.89 L1403.25,546.25 L1404.49,550.08 L1401.24,547.71 L1397.99,550.08 L1399.23,546.25 L1395.98,543.89 L1400.00,543.89Z M1432.42,549.07 L1433.66,552.89 L1437.68,552.89 L1434.43,555.25 L1435.67,559.08 L1432.42,556.71 L1429.17,559.08 L1430.41,555.25 L1427.16,552.89 L1431.18,552.89Z M1463.60,559.26 L1464.84,563.09 L1468.86,563.09 L1465.61,565.45 L1466.85,569.28 L1463.60,566.91 L1460.35,569.28 L1461.59,565.45 L1458.34,563.09 L1462.36,563.09Z" fill="none" stroke="#000" stroke-width="1.6" stroke-linejoin="round"/>
<rect x="1277.30" y="55.70" width="167.00" height="137.70" fill="#fff" stroke="#262626" stroke-width="1.5"/>
<line x1="1283.30" y1="75.20" x2="1326.90" y2="75.20" stroke="#0072BD" stroke-width="11.5"/>
<circle cx="1318.40" cy="75.20" r="8.3" fill="#0072BD"/>
<line x1="1283.30" y1="107.00" x2="1326.90" y2="107.00" stroke="#D95319" stroke-width="11.5"/>
<circle cx="1318.40" cy="107.00" r="8.3" fill="#D95319"/>
<line x1="1283.30" y1="141.80" x2="1326.90" y2="141.80" stroke="#EDB120" stroke-width="11.5"/>
<circle cx="1318.40" cy="141.80" r="8.3" fill="#EDB120"/>
<path d="M1317.80,168.50 L1319.06,172.37 L1323.13,172.37 L1319.83,174.76 L1321.09,178.63 L1317.80,176.24 L1314.51,178.63 L1315.77,174.76 L1312.47,172.37 L1316.54,172.37Z" fill="none" stroke="#000" stroke-width="1.6" stroke-linejoin="round"/>
<rect x="102.70" y="823.70" width="620.30" height="558.50" fill="none" stroke="#262626" stroke-width="1.6"/>
<path d="M102.70,1382.20V1376.20M102.70,823.70V829.70M226.76,1382.20V1376.20M226.76,823.70V829.70M350.82,1382.20V1376.20M350.82,823.70V829.70M474.88,1382.20V1376.20M474.88,823.70V829.70M598.94,1382.20V1376.20M598.94,823.70V829.70M723.00,1382.20V1376.20M723.00,823.70V829.70M102.70,1382.20H108.70M723.00,1382.20H717.00M102.70,1302.41H108.70M723.00,1302.41H717.00M102.70,1222.63H108.70M723.00,1222.63H717.00M102.70,1142.84H108.70M723.00,1142.84H717.00M102.70,1063.06H108.70M723.00,1063.06H717.00M102.70,983.27H108.70M723.00,983.27H717.00M102.70,903.49H108.70M723.00,903.49H717.00M102.70,823.70H108.70M723.00,823.70H717.00" stroke="#262626" stroke-width="1.6" fill="none"/>
<polyline points="102.70,823.70 133.72,1002.90 164.73,1051.40 195.75,1085.90 226.76,1109.50 257.77,1130.70 288.79,1146.20 319.80,1161.00 350.82,1173.70 381.83,1184.50 412.85,1195.90 443.87,1206.30 474.88,1214.70 505.89,1219.00 536.91,1222.80 567.92,1232.50 598.94,1239.30 629.96,1245.50 660.97,1251.00 691.99,1256.90 723.00,1262.30" fill="none" stroke="#0072BD" stroke-width="12.14" stroke-dasharray="42.50 38.46" stroke-linecap="butt" stroke-linejoin="miter"/>
<circle cx="102.70" cy="823.70" r="8.10" fill="#0072BD"/>
<circle cx="133.72" cy="1002.90" r="8.10" fill="#0072BD"/>
<circle cx="164.73" cy="1051.40" r="8.10" fill="#0072BD"/>
<circle cx="195.75" cy="1085.90" r="8.10" fill="#0072BD"/>
<circle cx="226.76" cy="1109.50" r="8.10" fill="#0072BD"/>
<circle cx="257.77" cy="1130.70" r="8.10" fill="#0072BD"/>
<circle cx="288.79" cy="1146.20" r="8.10" fill="#0072BD"/>
<circle cx="319.80" cy="1161.00" r="8.10" fill="#0072BD"/>
<circle cx="350.82" cy="1173.70" r="8.10" fill="#0072BD"/>
<circle cx="381.83" cy="1184.50" r="8.10" fill="#0072BD"/>
<circle cx="412.85" cy="1195.90" r="8.10" fill="#0072BD"/>
<circle cx="443.87" cy="1206.30" r="8.10" fill="#0072BD"/>
<circle cx="474.88" cy="1214.70" r="8.10" fill="#0072BD"/>
<circle cx="505.89" cy="1219.00" r="8.10" fill="#0072BD"/>
<circle cx="536.91" cy="1222.80" r="8.10" fill="#0072BD"/>
<circle cx="567.92" cy="1232.50" r="8.10" fill="#0072BD"/>
<circle cx="598.94" cy="1239.30" r="8.10" fill="#0072BD"/>
<circle cx="629.96" cy="1245.50" r="8.10" fill="#0072BD"/>
<circle cx="660.97" cy="1251.00" r="8.10" fill="#0072BD"/>
<circle cx="691.99" cy="1256.90" r="8.10" fill="#0072BD"/>
<circle cx="723.00" cy="1262.30" r="8.10" fill="#0072BD"/>
<polyline points="102.70,823.70 133.72,935.50 164.73,990.60 195.75,1030.50 226.76,1063.50 257.77,1090.10 288.79,1113.80 319.80,1134.10 350.82,1152.20 381.83,1168.40 412.85,1184.50 443.87,1198.30 474.88,1213.90 505.89,1220.90 536.91,1229.20 567.92,1240.00 598.94,1252.00 629.96,1261.60 660.97,1271.40 691.99,1279.00 723.00,1287.60" fill="none" stroke="#D95319" stroke-width="12.14" stroke-dasharray="42.50 38.46" stroke-linecap="butt" stroke-linejoin="miter"/>
<circle cx="102.70" cy="823.70" r="8.10" fill="#D95319"/>
<circle cx="133.72" cy="935.50" r="8.10" fill="#D95319"/>
<circle cx="164.73" cy="990.60" r="8.10" fill="#D95319"/>
<circle cx="195.75" cy="1030.50" r="8.10" fill="#D95319"/>
<circle cx="226.76" cy="1063.50" r="8.10" fill="#D95319"/>
<circle cx="257.77" cy="1090.10" r="8.10" fill="#D95319"/>
<circle cx="288.79" cy="1113.80" r="8.10" fill="#D95319"/>
<circle cx="319.80" cy="1134.10" r="8.10" fill="#D95319"/>
<circle cx="350.82" cy="1152.20" r="8.10" fill="#D95319"/>
<circle cx="381.83" cy="1168.40" r="8.10" fill="#D95319"/>
<circle cx="412.85" cy="1184.50" r="8.10" fill="#D95319"/>
<circle cx="443.87" cy="1198.30" r="8.10" fill="#D95319"/>
<circle cx="474.88" cy="1213.90" r="8.10" fill="#D95319"/>
<circle cx="505.89" cy="1220.90" r="8.10" fill="#D95319"/>
<circle cx="536.91" cy="1229.20" r="8.10" fill="#D95319"/>
<circle cx="567.92" cy="1240.00" r="8.10" fill="#D95319"/>
<circle cx="598.94" cy="1252.00" r="8.10" fill="#D95319"/>
<circle cx="629.96" cy="1261.60" r="8.10" fill="#D95319"/>
<circle cx="660.97" cy="1271.40" r="8.10" fill="#D95319"/>
<circle cx="691.99" cy="1279.00" r="8.10" fill="#D95319"/>
<circle cx="723.00" cy="1287.60" r="8.10" fill="#D95319"/>
<polyline points="102.70,823.70 133.72,886.50 164.73,933.90 195.75,975.80 226.76,1012.00 257.77,1043.50 288.79,1072.10 319.80,1098.40 350.82,1122.60 381.83,1145.50 412.85,1165.70 443.87,1184.30 474.88,1201.80 505.89,1218.60 536.91,1234.90 567.92,1249.40 598.94,1264.20 629.96,1276.00 660.97,1289.20 691.99,1301.00 723.00,1312.30" fill="none" stroke="#EDB120" stroke-width="12.14" stroke-dasharray="42.50 38.46" stroke-linecap="butt" stroke-linejoin="miter"/>
<circle cx="102.70" cy="823.70" r="8.10" fill="#EDB120"/>
<circle cx="133.72" cy="886.50" r="8.10" fill="#EDB120"/>
<circle cx="164.73" cy="933.90" r="8.10" fill="#EDB120"/>
<circle cx="195.75" cy="975.80" r="8.10" fill="#EDB120"/>
<circle cx="226.76" cy="1012.00" r="8.10" fill="#EDB120"/>
<circle cx="257.77" cy="1043.50" r="8.10" fill="#EDB120"/>
<circle cx="288.79" cy="1072.10" r="8.10" fill="#EDB120"/>
<circle cx="319.80" cy="1098.40" r="8.10" fill="#EDB120"/>
<circle cx="350.82" cy="1122.60" r="8.10" fill="#EDB120"/>
<circle cx="381.83" cy="1145.50" r="8.10" fill="#EDB120"/>
<circle cx="412.85" cy="1165.70" r="8.10" fill="#EDB120"/>
<circle cx="443.87" cy="1184.30" r="8.10" fill="#EDB120"/>
<circle cx="474.88" cy="1201.80" r="8.10" fill="#EDB120"/>
<circle cx="505.89" cy="1218.60" r="8.10" fill="#EDB120"/>
<circle cx="536.91" cy="1234.90" r="8.10" fill="#EDB120"/>
<circle cx="567.92" cy="1249.40" r="8.10" fill="#EDB120"/>
<circle cx="598.94" cy="1264.20" r="8.10" fill="#EDB120"/>
<circle cx="629.96" cy="1276.00" r="8.10" fill="#EDB120"/>
<circle cx="660.97" cy="1289.20" r="8.10" fill="#EDB120"/>
<circle cx="691.99" cy="1301.00" r="8.10" fill="#EDB120"/>
<circle cx="723.00" cy="1312.30" r="8.10" fill="#EDB120"/>
<path d="M102.70,818.24 L103.93,822.01 L107.90,822.01 L104.69,824.35 L105.91,828.12 L102.70,825.79 L99.49,828.12 L100.71,824.35 L97.50,822.01 L101.47,822.01Z M133.72,997.44 L134.94,1001.21 L138.91,1001.21 L135.70,1003.55 L136.93,1007.32 L133.72,1004.99 L130.50,1007.32 L131.73,1003.55 L128.52,1001.21 L132.49,1001.21Z M164.73,1045.94 L165.96,1049.71 L169.93,1049.71 L166.72,1052.05 L167.94,1055.82 L164.73,1053.49 L161.52,1055.82 L162.74,1052.05 L159.53,1049.71 L163.50,1049.71Z M195.75,1080.44 L196.97,1084.21 L200.94,1084.21 L197.73,1086.55 L198.96,1090.32 L195.75,1087.99 L192.53,1090.32 L193.76,1086.55 L190.55,1084.21 L194.52,1084.21Z M226.76,1104.04 L227.99,1107.81 L231.96,1107.81 L228.75,1110.15 L229.97,1113.92 L226.76,1111.59 L223.55,1113.92 L224.77,1110.15 L221.56,1107.81 L225.53,1107.81Z M257.77,1125.24 L259.00,1129.01 L262.97,1129.01 L259.76,1131.35 L260.99,1135.12 L257.77,1132.79 L254.56,1135.12 L255.79,1131.35 L252.58,1129.01 L256.55,1129.01Z M288.79,1140.74 L290.02,1144.51 L293.99,1144.51 L290.78,1146.85 L292.00,1150.62 L288.79,1148.29 L285.58,1150.62 L286.80,1146.85 L283.59,1144.51 L287.56,1144.51Z M319.80,1155.54 L321.03,1159.31 L325.00,1159.31 L321.79,1161.65 L323.02,1165.42 L319.80,1163.09 L316.59,1165.42 L317.82,1161.65 L314.61,1159.31 L318.58,1159.31Z M350.82,1168.24 L352.05,1172.01 L356.02,1172.01 L352.81,1174.35 L354.03,1178.12 L350.82,1175.79 L347.61,1178.12 L348.83,1174.35 L345.62,1172.01 L349.59,1172.01Z M381.83,1179.04 L383.06,1182.81 L387.03,1182.81 L383.82,1185.15 L385.05,1188.92 L381.83,1186.59 L378.62,1188.92 L379.85,1185.15 L376.64,1182.81 L380.61,1182.81Z M412.85,1190.44 L414.08,1194.21 L418.05,1194.21 L414.84,1196.55 L416.06,1200.32 L412.85,1197.99 L409.64,1200.32 L410.86,1196.55 L407.65,1194.21 L411.62,1194.21Z M443.87,1200.84 L445.09,1204.61 L449.06,1204.61 L445.85,1206.95 L447.08,1210.72 L443.87,1208.39 L440.65,1210.72 L441.88,1206.95 L438.67,1204.61 L442.64,1204.61Z M474.88,1209.24 L476.11,1213.01 L480.08,1213.01 L476.87,1215.35 L478.09,1219.12 L474.88,1216.79 L471.67,1219.12 L472.89,1215.35 L469.68,1213.01 L473.65,1213.01Z M505.89,1213.54 L507.12,1217.31 L511.09,1217.31 L507.88,1219.65 L509.11,1223.42 L505.89,1221.09 L502.68,1223.42 L503.91,1219.65 L500.70,1217.31 L504.67,1217.31Z M536.91,1217.34 L538.14,1221.11 L542.11,1221.11 L538.90,1223.45 L540.12,1227.22 L536.91,1224.89 L533.70,1227.22 L534.92,1223.45 L531.71,1221.11 L535.68,1221.11Z M567.92,1227.04 L569.15,1230.81 L573.12,1230.81 L569.91,1233.15 L571.14,1236.92 L567.92,1234.59 L564.71,1236.92 L565.94,1233.15 L562.73,1230.81 L566.70,1230.81Z M598.94,1233.84 L600.17,1237.61 L604.14,1237.61 L600.93,1239.95 L602.15,1243.72 L598.94,1241.39 L595.73,1243.72 L596.95,1239.95 L593.74,1237.61 L597.71,1237.61Z M629.96,1240.04 L631.18,1243.81 L635.15,1243.81 L631.94,1246.15 L633.17,1249.92 L629.96,1247.59 L626.74,1249.92 L627.97,1246.15 L624.76,1243.81 L628.73,1243.81Z M660.97,1245.54 L662.20,1249.31 L666.17,1249.31 L662.96,1251.65 L664.18,1255.42 L660.97,1253.09 L657.76,1255.42 L658.98,1251.65 L655.77,1249.31 L659.74,1249.31Z M691.99,1251.44 L693.21,1255.21 L697.18,1255.21 L693.97,1257.55 L695.20,1261.32 L691.99,1258.99 L688.77,1261.32 L690.00,1257.55 L686.79,1255.21 L690.76,1255.21Z M723.00,1256.84 L724.23,1260.61 L728.20,1260.61 L724.99,1262.95 L726.21,1266.72 L723.00,1264.39 L719.79,1266.72 L721.01,1262.95 L717.80,1260.61 L721.77,1260.61Z" fill="none" stroke="#000" stroke-width="1.6" stroke-linejoin="round"/>
<path d="M102.70,818.24 L103.93,822.01 L107.90,822.01 L104.69,824.35 L105.91,828.12 L102.70,825.79 L99.49,828.12 L100.71,824.35 L97.50,822.01 L101.47,822.01Z M133.72,930.04 L134.94,933.81 L138.91,933.81 L135.70,936.15 L136.93,939.92 L133.72,937.59 L130.50,939.92 L131.73,936.15 L128.52,933.81 L132.49,933.81Z M164.73,985.14 L165.96,988.91 L169.93,988.91 L166.72,991.25 L167.94,995.02 L164.73,992.69 L161.52,995.02 L162.74,991.25 L159.53,988.91 L163.50,988.91Z M195.75,1025.04 L196.97,1028.81 L200.94,1028.81 L197.73,1031.15 L198.96,1034.92 L195.75,1032.59 L192.53,1034.92 L193.76,1031.15 L190.55,1028.81 L194.52,1028.81Z M226.76,1058.04 L227.99,1061.81 L231.96,1061.81 L228.75,1064.15 L229.97,1067.92 L226.76,1065.59 L223.55,1067.92 L224.77,1064.15 L221.56,1061.81 L225.53,1061.81Z M257.77,1084.64 L259.00,1088.41 L262.97,1088.41 L259.76,1090.75 L260.99,1094.52 L257.77,1092.19 L254.56,1094.52 L255.79,1090.75 L252.58,1088.41 L256.55,1088.41Z M288.79,1108.34 L290.02,1112.11 L293.99,1112.11 L290.78,1114.45 L292.00,1118.22 L288.79,1115.89 L285.58,1118.22 L286.80,1114.45 L283.59,1112.11 L287.56,1112.11Z M319.80,1128.64 L321.03,1132.41 L325.00,1132.41 L321.79,1134.75 L323.02,1138.52 L319.80,1136.19 L316.59,1138.52 L317.82,1134.75 L314.61,1132.41 L318.58,1132.41Z M350.82,1146.74 L352.05,1150.51 L356.02,1150.51 L352.81,1152.85 L354.03,1156.62 L350.82,1154.29 L347.61,1156.62 L348.83,1152.85 L345.62,1150.51 L349.59,1150.51Z M381.83,1162.94 L383.06,1166.71 L387.03,1166.71 L383.82,1169.05 L385.05,1172.82 L381.83,1170.49 L378.62,1172.82 L379.85,1169.05 L376.64,1166.71 L380.61,1166.71Z M412.85,1179.04 L414.08,1182.81 L418.05,1182.81 L414.84,1185.15 L416.06,1188.92 L412.85,1186.59 L409.64,1188.92 L410.86,1185.15 L407.65,1182.81 L411.62,1182.81Z M443.87,1192.84 L445.09,1196.61 L449.06,1196.61 L445.85,1198.95 L447.08,1202.72 L443.87,1200.39 L440.65,1202.72 L441.88,1198.95 L438.67,1196.61 L442.64,1196.61Z M474.88,1208.44 L476.11,1212.21 L480.08,1212.21 L476.87,1214.55 L478.09,1218.32 L474.88,1215.99 L471.67,1218.32 L472.89,1214.55 L469.68,1212.21 L473.65,1212.21Z M505.89,1215.44 L507.12,1219.21 L511.09,1219.21 L507.88,1221.55 L509.11,1225.32 L505.89,1222.99 L502.68,1225.32 L503.91,1221.55 L500.70,1219.21 L504.67,1219.21Z M536.91,1223.74 L538.14,1227.51 L542.11,1227.51 L538.90,1229.85 L540.12,1233.62 L536.91,1231.29 L533.70,1233.62 L534.92,1229.85 L531.71,1227.51 L535.68,1227.51Z M567.92,1234.54 L569.15,1238.31 L573.12,1238.31 L569.91,1240.65 L571.14,1244.42 L567.92,1242.09 L564.71,1244.42 L565.94,1240.65 L562.73,1238.31 L566.70,1238.31Z M598.94,1246.54 L600.17,1250.31 L604.14,1250.31 L600.93,1252.65 L602.15,1256.42 L598.94,1254.09 L595.73,1256.42 L596.95,1252.65 L593.74,1250.31 L597.71,1250.31Z M629.96,1256.14 L631.18,1259.91 L635.15,1259.91 L631.94,1262.25 L633.17,1266.02 L629.96,1263.69 L626.74,1266.02 L627.97,1262.25 L624.76,1259.91 L628.73,1259.91Z M660.97,1265.94 L662.20,1269.71 L666.17,1269.71 L662.96,1272.05 L664.18,1275.82 L660.97,1273.49 L657.76,1275.82 L658.98,1272.05 L655.77,1269.71 L659.74,1269.71Z M691.99,1273.54 L693.21,1277.31 L697.18,1277.31 L693.97,1279.65 L695.20,1283.42 L691.99,1281.09 L688.77,1283.42 L690.00,1279.65 L686.79,1277.31 L690.76,1277.31Z M723.00,1282.14 L724.23,1285.91 L728.20,1285.91 L724.99,1288.25 L726.21,1292.02 L723.00,1289.69 L719.79,1292.02 L721.01,1288.25 L717.80,1285.91 L721.77,1285.91Z" fill="none" stroke="#000" stroke-width="1.6" stroke-linejoin="round"/>
<path d="M102.70,818.24 L103.93,822.01 L107.90,822.01 L104.69,824.35 L105.91,828.12 L102.70,825.79 L99.49,828.12 L100.71,824.35 L97.50,822.01 L101.47,822.01Z M133.72,881.04 L134.94,884.81 L138.91,884.81 L135.70,887.15 L136.93,890.92 L133.72,888.59 L130.50,890.92 L131.73,887.15 L128.52,884.81 L132.49,884.81Z M164.73,928.44 L165.96,932.21 L169.93,932.21 L166.72,934.55 L167.94,938.32 L164.73,935.99 L161.52,938.32 L162.74,934.55 L159.53,932.21 L163.50,932.21Z M195.75,970.34 L196.97,974.11 L200.94,974.11 L197.73,976.45 L198.96,980.22 L195.75,977.89 L192.53,980.22 L193.76,976.45 L190.55,974.11 L194.52,974.11Z M226.76,1006.54 L227.99,1010.31 L231.96,1010.31 L228.75,1012.65 L229.97,1016.42 L226.76,1014.09 L223.55,1016.42 L224.77,1012.65 L221.56,1010.31 L225.53,1010.31Z M257.77,1038.04 L259.00,1041.81 L262.97,1041.81 L259.76,1044.15 L260.99,1047.92 L257.77,1045.59 L254.56,1047.92 L255.79,1044.15 L252.58,1041.81 L256.55,1041.81Z M288.79,1066.64 L290.02,1070.41 L293.99,1070.41 L290.78,1072.75 L292.00,1076.52 L288.79,1074.19 L285.58,1076.52 L286.80,1072.75 L283.59,1070.41 L287.56,1070.41Z M319.80,1092.94 L321.03,1096.71 L325.00,1096.71 L321.79,1099.05 L323.02,1102.82 L319.80,1100.49 L316.59,1102.82 L317.82,1099.05 L314.61,1096.71 L318.58,1096.71Z M350.82,1117.14 L352.05,1120.91 L356.02,1120.91 L352.81,1123.25 L354.03,1127.02 L350.82,1124.69 L347.61,1127.02 L348.83,1123.25 L345.62,1120.91 L349.59,1120.91Z M381.83,1140.04 L383.06,1143.81 L387.03,1143.81 L383.82,1146.15 L385.05,1149.92 L381.83,1147.59 L378.62,1149.92 L379.85,1146.15 L376.64,1143.81 L380.61,1143.81Z M412.85,1160.24 L414.08,1164.01 L418.05,1164.01 L414.84,1166.35 L416.06,1170.12 L412.85,1167.79 L409.64,1170.12 L410.86,1166.35 L407.65,1164.01 L411.62,1164.01Z M443.87,1178.84 L445.09,1182.61 L449.06,1182.61 L445.85,1184.95 L447.08,1188.72 L443.87,1186.39 L440.65,1188.72 L441.88,1184.95 L438.67,1182.61 L442.64,1182.61Z M474.88,1196.34 L476.11,1200.11 L480.08,1200.11 L476.87,1202.45 L478.09,1206.22 L474.88,1203.89 L471.67,1206.22 L472.89,1202.45 L469.68,1200.11 L473.65,1200.11Z M505.89,1213.14 L507.12,1216.91 L511.09,1216.91 L507.88,1219.25 L509.11,1223.02 L505.89,1220.69 L502.68,1223.02 L503.91,1219.25 L500.70,1216.91 L504.67,1216.91Z M536.91,1229.44 L538.14,1233.21 L542.11,1233.21 L538.90,1235.55 L540.12,1239.32 L536.91,1236.99 L533.70,1239.32 L534.92,1235.55 L531.71,1233.21 L535.68,1233.21Z M567.92,1243.94 L569.15,1247.71 L573.12,1247.71 L569.91,1250.05 L571.14,1253.82 L567.92,1251.49 L564.71,1253.82 L565.94,1250.05 L562.73,1247.71 L566.70,1247.71Z M598.94,1258.74 L600.17,1262.51 L604.14,1262.51 L600.93,1264.85 L602.15,1268.62 L598.94,1266.29 L595.73,1268.62 L596.95,1264.85 L593.74,1262.51 L597.71,1262.51Z M629.96,1270.54 L631.18,1274.31 L635.15,1274.31 L631.94,1276.65 L633.17,1280.42 L629.96,1278.09 L626.74,1280.42 L627.97,1276.65 L624.76,1274.31 L628.73,1274.31Z M660.97,1283.74 L662.20,1287.51 L666.17,1287.51 L662.96,1289.85 L664.18,1293.62 L660.97,1291.29 L657.76,1293.62 L658.98,1289.85 L655.77,1287.51 L659.74,1287.51Z M691.99,1295.54 L693.21,1299.31 L697.18,1299.31 L693.97,1301.65 L695.20,1305.42 L691.99,1303.09 L688.77,1305.42 L690.00,1301.65 L686.79,1299.31 L690.76,1299.31Z M723.00,1306.84 L724.23,1310.61 L728.20,1310.61 L724.99,1312.95 L726.21,1316.72 L723.00,1314.39 L719.79,1316.72 L721.01,1312.95 L717.80,1310.61 L721.77,1310.61Z" fill="none" stroke="#000" stroke-width="1.6" stroke-linejoin="round"/>
<rect x="536.70" y="842.90" width="167.60" height="133.10" fill="#fff" stroke="#262626" stroke-width="1.5"/>
<line x1="543.30" y1="860.90" x2="586.30" y2="860.90" stroke="#0072BD" stroke-width="11.5"/>
<circle cx="578.40" cy="860.90" r="8.3" fill="#0072BD"/>
<line x1="543.30" y1="892.50" x2="586.30" y2="892.50" stroke="#D95319" stroke-width="11.5"/>
<circle cx="578.40" cy="892.50" r="8.3" fill="#D95319"/>
<line x1="543.30" y1="926.00" x2="586.30" y2="926.00" stroke="#EDB120" stroke-width="11.5"/>
<circle cx="578.40" cy="926.00" r="8.3" fill="#EDB120"/>
<path d="M577.20,951.10 L578.46,954.97 L582.53,954.97 L579.23,957.36 L580.49,961.23 L577.20,958.84 L573.91,961.23 L575.17,957.36 L571.87,954.97 L575.94,954.97Z" fill="none" stroke="#000" stroke-width="1.6" stroke-linejoin="round"/>
<rect x="860.40" y="826.40" width="615.10" height="554.00" fill="none" stroke="#262626" stroke-width="1.2"/>
<path d="M860.40,1380.40V1374.40M860.40,826.40V832.40M983.42,1380.40V1374.40M983.42,826.40V832.40M1106.44,1380.40V1374.40M1106.44,826.40V832.40M1229.46,1380.40V1374.40M1229.46,826.40V832.40M1352.48,1380.40V1374.40M1352.48,826.40V832.40M1475.50,1380.40V1374.40M1475.50,826.40V832.40M860.40,1380.40H866.40M1475.50,1380.40H1469.50M860.40,1269.60H866.40M1475.50,1269.60H1469.50M860.40,1158.80H866.40M1475.50,1158.80H1469.50M860.40,1048.00H866.40M1475.50,1048.00H1469.50M860.40,937.20H866.40M1475.50,937.20H1469.50M860.40,826.40H866.40M1475.50,826.40H1469.50" stroke="#262626" stroke-width="1.2" fill="none"/>
<polyline points="860.40,825.90 891.15,1003.50 921.91,1057.40 952.66,1095.00 983.42,1122.20 1014.17,1146.80 1044.93,1166.30 1075.68,1183.20 1106.44,1198.60 1137.19,1212.70 1167.95,1225.40 1198.70,1237.50 1229.46,1248.20 1260.22,1259.60 1290.97,1268.40 1321.72,1276.50 1352.48,1284.00 1383.24,1291.00 1413.99,1296.00 1444.74,1304.60 1475.50,1310.90" fill="none" stroke="#0072BD" stroke-width="12.17" stroke-dasharray="42.59 38.53" stroke-linecap="butt" stroke-linejoin="miter"/>
<circle cx="860.40" cy="825.90" r="8.11" fill="#0072BD"/>
<circle cx="891.15" cy="1003.50" r="8.11" fill="#0072BD"/>
<circle cx="921.91" cy="1057.40" r="8.11" fill="#0072BD"/>
<circle cx="952.66" cy="1095.00" r="8.11" fill="#0072BD"/>
<circle cx="983.42" cy="1122.20" r="8.11" fill="#0072BD"/>
<circle cx="1014.17" cy="1146.80" r="8.11" fill="#0072BD"/>
<circle cx="1044.93" cy="1166.30" r="8.11" fill="#0072BD"/>
<circle cx="1075.68" cy="1183.20" r="8.11" fill="#0072BD"/>
<circle cx="1106.44" cy="1198.60" r="8.11" fill="#0072BD"/>
<circle cx="1137.19" cy="1212.70" r="8.11" fill="#0072BD"/>
<circle cx="1167.95" cy="1225.40" r="8.11" fill="#0072BD"/>
<circle cx="1198.70" cy="1237.50" r="8.11" fill="#0072BD"/>
<circle cx="1229.46" cy="1248.20" r="8.11" fill="#0072BD"/>
<circle cx="1260.22" cy="1259.60" r="8.11" fill="#0072BD"/>
<circle cx="1290.97" cy="1268.40" r="8.11" fill="#0072BD"/>
<circle cx="1321.72" cy="1276.50" r="8.11" fill="#0072BD"/>
<circle cx="1352.48" cy="1284.00" r="8.11" fill="#0072BD"/>
<circle cx="1383.24" cy="1291.00" r="8.11" fill="#0072BD"/>
<circle cx="1413.99" cy="1296.00" r="8.11" fill="#0072BD"/>
<circle cx="1444.74" cy="1304.60" r="8.11" fill="#0072BD"/>
<circle cx="1475.50" cy="1310.90" r="8.11" fill="#0072BD"/>
<polyline points="860.40,825.90 891.15,935.70 921.91,989.80 952.66,1032.20 983.42,1066.50 1014.17,1094.10 1044.93,1121.40 1075.68,1142.80 1106.44,1164.30 1137.19,1183.80 1167.95,1201.90 1198.70,1217.00 1229.46,1232.00 1260.22,1246.80 1290.97,1261.60 1321.72,1275.80 1352.48,1286.50 1383.24,1295.50 1413.99,1303.00 1444.74,1316.40 1475.50,1325.90" fill="none" stroke="#D95319" stroke-width="12.17" stroke-dasharray="42.59 38.53" stroke-linecap="butt" stroke-linejoin="miter"/>
<circle cx="860.40" cy="825.90" r="8.11" fill="#D95319"/>
<circle cx="891.15" cy="935.70" r="8.11" fill="#D95319"/>
<circle cx="921.91" cy="989.80" r="8.11" fill="#D95319"/>
<circle cx="952.66" cy="1032.20" r="8.11" fill="#D95319"/>
<circle cx="983.42" cy="1066.50" r="8.11" fill="#D95319"/>
<circle cx="1014.17" cy="1094.10" r="8.11" fill="#D95319"/>
<circle cx="1044.93" cy="1121.40" r="8.11" fill="#D95319"/>
<circle cx="1075.68" cy="1142.80" r="8.11" fill="#D95319"/>
<circle cx="1106.44" cy="1164.30" r="8.11" fill="#D95319"/>
<circle cx="1137.19" cy="1183.80" r="8.11" fill="#D95319"/>
<circle cx="1167.95" cy="1201.90" r="8.11" fill="#D95319"/>
<circle cx="1198.70" cy="1217.00" r="8.11" fill="#D95319"/>
<circle cx="1229.46" cy="1232.00" r="8.11" fill="#D95319"/>
<circle cx="1260.22" cy="1246.80" r="8.11" fill="#D95319"/>
<circle cx="1290.97" cy="1261.60" r="8.11" fill="#D95319"/>
<circle cx="1321.72" cy="1275.80" r="8.11" fill="#D95319"/>
<circle cx="1352.48" cy="1286.50" r="8.11" fill="#D95319"/>
<circle cx="1383.24" cy="1295.50" r="8.11" fill="#D95319"/>
<circle cx="1413.99" cy="1303.00" r="8.11" fill="#D95319"/>
<circle cx="1444.74" cy="1316.40" r="8.11" fill="#D95319"/>
<circle cx="1475.50" cy="1325.90" r="8.11" fill="#D95319"/>
<polyline points="860.40,825.90 891.15,887.80 921.91,935.70 952.66,974.70 983.42,1010.30 1014.17,1041.70 1044.93,1070.80 1075.68,1098.40 1106.44,1123.30 1137.19,1146.80 1167.95,1170.00 1198.70,1189.80 1229.46,1210.50 1260.22,1228.00 1290.97,1246.20 1321.72,1262.80 1352.48,1279.30 1383.24,1295.50 1413.99,1310.00 1444.74,1322.70 1475.50,1336.80" fill="none" stroke="#EDB120" stroke-width="12.17" stroke-dasharray="42.59 38.53" stroke-linecap="butt" stroke-linejoin="miter"/>
<circle cx="860.40" cy="825.90" r="8.11" fill="#EDB120"/>
<circle cx="891.15" cy="887.80" r="8.11" fill="#EDB120"/>
<circle cx="921.91" cy="935.70" r="8.11" fill="#EDB120"/>
<circle cx="952.66" cy="974.70" r="8.11" fill="#EDB120"/>
<circle cx="983.42" cy="1010.30" r="8.11" fill="#EDB120"/>
<circle cx="1014.17" cy="1041.70" r="8.11" fill="#EDB120"/>
<circle cx="1044.93" cy="1070.80" r="8.11" fill="#EDB120"/>
<circle cx="1075.68" cy="1098.40" r="8.11" fill="#EDB120"/>
<circle cx="1106.44" cy="1123.30" r="8.11" fill="#EDB120"/>
<circle cx="1137.19" cy="1146.80" r="8.11" fill="#EDB120"/>
<circle cx="1167.95" cy="1170.00" r="8.11" fill="#EDB120"/>
<circle cx="1198.70" cy="1189.80" r="8.11" fill="#EDB120"/>
<circle cx="1229.46" cy="1210.50" r="8.11" fill="#EDB120"/>
<circle cx="1260.22" cy="1228.00" r="8.11" fill="#EDB120"/>
<circle cx="1290.97" cy="1246.20" r="8.11" fill="#EDB120"/>
<circle cx="1321.72" cy="1262.80" r="8.11" fill="#EDB120"/>
<circle cx="1352.48" cy="1279.30" r="8.11" fill="#EDB120"/>
<circle cx="1383.24" cy="1295.50" r="8.11" fill="#EDB120"/>
<circle cx="1413.99" cy="1310.00" r="8.11" fill="#EDB120"/>
<circle cx="1444.74" cy="1322.70" r="8.11" fill="#EDB120"/>
<circle cx="1475.50" cy="1336.80" r="8.11" fill="#EDB120"/>
<path d="M860.40,820.42 L861.63,824.21 L865.61,824.21 L862.39,826.55 L863.62,830.33 L860.40,827.99 L857.18,830.33 L858.41,826.55 L855.19,824.21 L859.17,824.21Z M891.15,998.02 L892.38,1001.81 L896.36,1001.81 L893.14,1004.15 L894.37,1007.93 L891.15,1005.59 L887.94,1007.93 L889.17,1004.15 L885.95,1001.81 L889.93,1001.81Z M921.91,1051.92 L923.14,1055.71 L927.12,1055.71 L923.90,1058.05 L925.13,1061.83 L921.91,1059.49 L918.69,1061.83 L919.92,1058.05 L916.70,1055.71 L920.68,1055.71Z M952.66,1089.52 L953.89,1093.31 L957.87,1093.31 L954.65,1095.65 L955.88,1099.43 L952.66,1097.09 L949.45,1099.43 L950.68,1095.65 L947.46,1093.31 L951.44,1093.31Z M983.42,1116.72 L984.65,1120.51 L988.63,1120.51 L985.41,1122.85 L986.64,1126.63 L983.42,1124.29 L980.20,1126.63 L981.43,1122.85 L978.21,1120.51 L982.19,1120.51Z M1014.17,1141.32 L1015.40,1145.11 L1019.38,1145.11 L1016.16,1147.45 L1017.39,1151.23 L1014.17,1148.89 L1010.96,1151.23 L1012.19,1147.45 L1008.97,1145.11 L1012.95,1145.11Z M1044.93,1160.82 L1046.16,1164.61 L1050.14,1164.61 L1046.92,1166.95 L1048.15,1170.73 L1044.93,1168.39 L1041.71,1170.73 L1042.94,1166.95 L1039.72,1164.61 L1043.70,1164.61Z M1075.68,1177.72 L1076.91,1181.51 L1080.89,1181.51 L1077.67,1183.85 L1078.90,1187.63 L1075.68,1185.29 L1072.47,1187.63 L1073.70,1183.85 L1070.48,1181.51 L1074.46,1181.51Z M1106.44,1193.12 L1107.67,1196.91 L1111.65,1196.91 L1108.43,1199.25 L1109.66,1203.03 L1106.44,1200.69 L1103.22,1203.03 L1104.45,1199.25 L1101.23,1196.91 L1105.21,1196.91Z M1137.19,1207.22 L1138.42,1211.01 L1142.40,1211.01 L1139.18,1213.35 L1140.41,1217.13 L1137.19,1214.79 L1133.98,1217.13 L1135.21,1213.35 L1131.99,1211.01 L1135.97,1211.01Z M1167.95,1219.92 L1169.18,1223.71 L1173.16,1223.71 L1169.94,1226.05 L1171.17,1229.83 L1167.95,1227.49 L1164.73,1229.83 L1165.96,1226.05 L1162.74,1223.71 L1166.72,1223.71Z M1198.70,1232.02 L1199.93,1235.81 L1203.91,1235.81 L1200.69,1238.15 L1201.92,1241.93 L1198.70,1239.59 L1195.49,1241.93 L1196.72,1238.15 L1193.50,1235.81 L1197.48,1235.81Z M1229.46,1242.72 L1230.69,1246.51 L1234.67,1246.51 L1231.45,1248.85 L1232.68,1252.63 L1229.46,1250.29 L1226.24,1252.63 L1227.47,1248.85 L1224.25,1246.51 L1228.23,1246.51Z M1260.22,1254.12 L1261.44,1257.91 L1265.42,1257.91 L1262.20,1260.25 L1263.43,1264.03 L1260.22,1261.69 L1257.00,1264.03 L1258.23,1260.25 L1255.01,1257.91 L1258.99,1257.91Z M1290.97,1262.92 L1292.20,1266.71 L1296.18,1266.71 L1292.96,1269.05 L1294.19,1272.83 L1290.97,1270.49 L1287.75,1272.83 L1288.98,1269.05 L1285.76,1266.71 L1289.74,1266.71Z M1321.72,1271.02 L1322.95,1274.81 L1326.93,1274.81 L1323.71,1277.15 L1324.94,1280.93 L1321.72,1278.59 L1318.51,1280.93 L1319.74,1277.15 L1316.52,1274.81 L1320.50,1274.81Z M1352.48,1278.52 L1353.71,1282.31 L1357.69,1282.31 L1354.47,1284.65 L1355.70,1288.43 L1352.48,1286.09 L1349.26,1288.43 L1350.49,1284.65 L1347.27,1282.31 L1351.25,1282.31Z M1383.24,1285.52 L1384.46,1289.31 L1388.44,1289.31 L1385.22,1291.65 L1386.45,1295.43 L1383.24,1293.09 L1380.02,1295.43 L1381.25,1291.65 L1378.03,1289.31 L1382.01,1289.31Z M1413.99,1290.52 L1415.22,1294.31 L1419.20,1294.31 L1415.98,1296.65 L1417.21,1300.43 L1413.99,1298.09 L1410.77,1300.43 L1412.00,1296.65 L1408.78,1294.31 L1412.76,1294.31Z M1444.74,1299.12 L1445.97,1302.91 L1449.95,1302.91 L1446.73,1305.25 L1447.96,1309.03 L1444.74,1306.69 L1441.53,1309.03 L1442.76,1305.25 L1439.54,1302.91 L1443.52,1302.91Z M1475.50,1305.42 L1476.73,1309.21 L1480.71,1309.21 L1477.49,1311.55 L1478.72,1315.33 L1475.50,1312.99 L1472.28,1315.33 L1473.51,1311.55 L1470.29,1309.21 L1474.27,1309.21Z" fill="none" stroke="#000" stroke-width="1.6" stroke-linejoin="round"/>
<path d="M860.40,820.42 L861.63,824.21 L865.61,824.21 L862.39,826.55 L863.62,830.33 L860.40,827.99 L857.18,830.33 L858.41,826.55 L855.19,824.21 L859.17,824.21Z M891.15,930.22 L892.38,934.01 L896.36,934.01 L893.14,936.35 L894.37,940.13 L891.15,937.79 L887.94,940.13 L889.17,936.35 L885.95,934.01 L889.93,934.01Z M921.91,984.32 L923.14,988.11 L927.12,988.11 L923.90,990.45 L925.13,994.23 L921.91,991.89 L918.69,994.23 L919.92,990.45 L916.70,988.11 L920.68,988.11Z M952.66,1026.72 L953.89,1030.51 L957.87,1030.51 L954.65,1032.85 L955.88,1036.63 L952.66,1034.29 L949.45,1036.63 L950.68,1032.85 L947.46,1030.51 L951.44,1030.51Z M983.42,1061.02 L984.65,1064.81 L988.63,1064.81 L985.41,1067.15 L986.64,1070.93 L983.42,1068.59 L980.20,1070.93 L981.43,1067.15 L978.21,1064.81 L982.19,1064.81Z M1014.17,1088.62 L1015.40,1092.41 L1019.38,1092.41 L1016.16,1094.75 L1017.39,1098.53 L1014.17,1096.19 L1010.96,1098.53 L1012.19,1094.75 L1008.97,1092.41 L1012.95,1092.41Z M1044.93,1115.92 L1046.16,1119.71 L1050.14,1119.71 L1046.92,1122.05 L1048.15,1125.83 L1044.93,1123.49 L1041.71,1125.83 L1042.94,1122.05 L1039.72,1119.71 L1043.70,1119.71Z M1075.68,1137.32 L1076.91,1141.11 L1080.89,1141.11 L1077.67,1143.45 L1078.90,1147.23 L1075.68,1144.89 L1072.47,1147.23 L1073.70,1143.45 L1070.48,1141.11 L1074.46,1141.11Z M1106.44,1158.82 L1107.67,1162.61 L1111.65,1162.61 L1108.43,1164.95 L1109.66,1168.73 L1106.44,1166.39 L1103.22,1168.73 L1104.45,1164.95 L1101.23,1162.61 L1105.21,1162.61Z M1137.19,1178.32 L1138.42,1182.11 L1142.40,1182.11 L1139.18,1184.45 L1140.41,1188.23 L1137.19,1185.89 L1133.98,1188.23 L1135.21,1184.45 L1131.99,1182.11 L1135.97,1182.11Z M1167.95,1196.42 L1169.18,1200.21 L1173.16,1200.21 L1169.94,1202.55 L1171.17,1206.33 L1167.95,1203.99 L1164.73,1206.33 L1165.96,1202.55 L1162.74,1200.21 L1166.72,1200.21Z M1198.70,1211.52 L1199.93,1215.31 L1203.91,1215.31 L1200.69,1217.65 L1201.92,1221.43 L1198.70,1219.09 L1195.49,1221.43 L1196.72,1217.65 L1193.50,1215.31 L1197.48,1215.31Z M1229.46,1226.52 L1230.69,1230.31 L1234.67,1230.31 L1231.45,1232.65 L1232.68,1236.43 L1229.46,1234.09 L1226.24,1236.43 L1227.47,1232.65 L1224.25,1230.31 L1228.23,1230.31Z M1260.22,1241.32 L1261.44,1245.11 L1265.42,1245.11 L1262.20,1247.45 L1263.43,1251.23 L1260.22,1248.89 L1257.00,1251.23 L1258.23,1247.45 L1255.01,1245.11 L1258.99,1245.11Z M1290.97,1256.12 L1292.20,1259.91 L1296.18,1259.91 L1292.96,1262.25 L1294.19,1266.03 L1290.97,1263.69 L1287.75,1266.03 L1288.98,1262.25 L1285.76,1259.91 L1289.74,1259.91Z M1321.72,1270.32 L1322.95,1274.11 L1326.93,1274.11 L1323.71,1276.45 L1324.94,1280.23 L1321.72,1277.89 L1318.51,1280.23 L1319.74,1276.45 L1316.52,1274.11 L1320.50,1274.11Z M1352.48,1281.02 L1353.71,1284.81 L1357.69,1284.81 L1354.47,1287.15 L1355.70,1290.93 L1352.48,1288.59 L1349.26,1290.93 L1350.49,1287.15 L1347.27,1284.81 L1351.25,1284.81Z M1383.24,1290.02 L1384.46,1293.81 L1388.44,1293.81 L1385.22,1296.15 L1386.45,1299.93 L1383.24,1297.59 L1380.02,1299.93 L1381.25,1296.15 L1378.03,1293.81 L1382.01,1293.81Z M1413.99,1297.52 L1415.22,1301.31 L1419.20,1301.31 L1415.98,1303.65 L1417.21,1307.43 L1413.99,1305.09 L1410.77,1307.43 L1412.00,1303.65 L1408.78,1301.31 L1412.76,1301.31Z M1444.74,1310.92 L1445.97,1314.71 L1449.95,1314.71 L1446.73,1317.05 L1447.96,1320.83 L1444.74,1318.49 L1441.53,1320.83 L1442.76,1317.05 L1439.54,1314.71 L1443.52,1314.71Z M1475.50,1320.42 L1476.73,1324.21 L1480.71,1324.21 L1477.49,1326.55 L1478.72,1330.33 L1475.50,1327.99 L1472.28,1330.33 L1473.51,1326.55 L1470.29,1324.21 L1474.27,1324.21Z" fill="none" stroke="#000" stroke-width="1.6" stroke-linejoin="round"/>
<path d="M860.40,820.42 L861.63,824.21 L865.61,824.21 L862.39,826.55 L863.62,830.33 L860.40,827.99 L857.18,830.33 L858.41,826.55 L855.19,824.21 L859.17,824.21Z M891.15,882.32 L892.38,886.11 L896.36,886.11 L893.14,888.45 L894.37,892.23 L891.15,889.89 L887.94,892.23 L889.17,888.45 L885.95,886.11 L889.93,886.11Z M921.91,930.22 L923.14,934.01 L927.12,934.01 L923.90,936.35 L925.13,940.13 L921.91,937.79 L918.69,940.13 L919.92,936.35 L916.70,934.01 L920.68,934.01Z M952.66,969.22 L953.89,973.01 L957.87,973.01 L954.65,975.35 L955.88,979.13 L952.66,976.79 L949.45,979.13 L950.68,975.35 L947.46,973.01 L951.44,973.01Z M983.42,1004.82 L984.65,1008.61 L988.63,1008.61 L985.41,1010.95 L986.64,1014.73 L983.42,1012.39 L980.20,1014.73 L981.43,1010.95 L978.21,1008.61 L982.19,1008.61Z M1014.17,1036.22 L1015.40,1040.01 L1019.38,1040.01 L1016.16,1042.35 L1017.39,1046.13 L1014.17,1043.79 L1010.96,1046.13 L1012.19,1042.35 L1008.97,1040.01 L1012.95,1040.01Z M1044.93,1065.32 L1046.16,1069.11 L1050.14,1069.11 L1046.92,1071.45 L1048.15,1075.23 L1044.93,1072.89 L1041.71,1075.23 L1042.94,1071.45 L1039.72,1069.11 L1043.70,1069.11Z M1075.68,1092.92 L1076.91,1096.71 L1080.89,1096.71 L1077.67,1099.05 L1078.90,1102.83 L1075.68,1100.49 L1072.47,1102.83 L1073.70,1099.05 L1070.48,1096.71 L1074.46,1096.71Z M1106.44,1117.82 L1107.67,1121.61 L1111.65,1121.61 L1108.43,1123.95 L1109.66,1127.73 L1106.44,1125.39 L1103.22,1127.73 L1104.45,1123.95 L1101.23,1121.61 L1105.21,1121.61Z M1137.19,1141.32 L1138.42,1145.11 L1142.40,1145.11 L1139.18,1147.45 L1140.41,1151.23 L1137.19,1148.89 L1133.98,1151.23 L1135.21,1147.45 L1131.99,1145.11 L1135.97,1145.11Z M1167.95,1164.52 L1169.18,1168.31 L1173.16,1168.31 L1169.94,1170.65 L1171.17,1174.43 L1167.95,1172.09 L1164.73,1174.43 L1165.96,1170.65 L1162.74,1168.31 L1166.72,1168.31Z M1198.70,1184.32 L1199.93,1188.11 L1203.91,1188.11 L1200.69,1190.45 L1201.92,1194.23 L1198.70,1191.89 L1195.49,1194.23 L1196.72,1190.45 L1193.50,1188.11 L1197.48,1188.11Z M1229.46,1205.02 L1230.69,1208.81 L1234.67,1208.81 L1231.45,1211.15 L1232.68,1214.93 L1229.46,1212.59 L1226.24,1214.93 L1227.47,1211.15 L1224.25,1208.81 L1228.23,1208.81Z M1260.22,1222.52 L1261.44,1226.31 L1265.42,1226.31 L1262.20,1228.65 L1263.43,1232.43 L1260.22,1230.09 L1257.00,1232.43 L1258.23,1228.65 L1255.01,1226.31 L1258.99,1226.31Z M1290.97,1240.72 L1292.20,1244.51 L1296.18,1244.51 L1292.96,1246.85 L1294.19,1250.63 L1290.97,1248.29 L1287.75,1250.63 L1288.98,1246.85 L1285.76,1244.51 L1289.74,1244.51Z M1321.72,1257.32 L1322.95,1261.11 L1326.93,1261.11 L1323.71,1263.45 L1324.94,1267.23 L1321.72,1264.89 L1318.51,1267.23 L1319.74,1263.45 L1316.52,1261.11 L1320.50,1261.11Z M1352.48,1273.82 L1353.71,1277.61 L1357.69,1277.61 L1354.47,1279.95 L1355.70,1283.73 L1352.48,1281.39 L1349.26,1283.73 L1350.49,1279.95 L1347.27,1277.61 L1351.25,1277.61Z M1383.24,1290.02 L1384.46,1293.81 L1388.44,1293.81 L1385.22,1296.15 L1386.45,1299.93 L1383.24,1297.59 L1380.02,1299.93 L1381.25,1296.15 L1378.03,1293.81 L1382.01,1293.81Z M1413.99,1304.52 L1415.22,1308.31 L1419.20,1308.31 L1415.98,1310.65 L1417.21,1314.43 L1413.99,1312.09 L1410.77,1314.43 L1412.00,1310.65 L1408.78,1308.31 L1412.76,1308.31Z M1444.74,1317.22 L1445.97,1321.01 L1449.95,1321.01 L1446.73,1323.35 L1447.96,1327.13 L1444.74,1324.79 L1441.53,1327.13 L1442.76,1323.35 L1439.54,1321.01 L1443.52,1321.01Z M1475.50,1331.32 L1476.73,1335.11 L1480.71,1335.11 L1477.49,1337.45 L1478.72,1341.23 L1475.50,1338.89 L1472.28,1341.23 L1473.51,1337.45 L1470.29,1335.11 L1474.27,1335.11Z" fill="none" stroke="#000" stroke-width="1.6" stroke-linejoin="round"/>
<rect x="1288.70" y="844.60" width="167.90" height="134.40" fill="#fff" stroke="#262626" stroke-width="1.5"/>
<line x1="1296.40" y1="863.10" x2="1339.00" y2="863.10" stroke="#0072BD" stroke-width="11.5"/>
<circle cx="1330.90" cy="863.10" r="8.3" fill="#0072BD"/>
<line x1="1296.40" y1="895.00" x2="1339.00" y2="895.00" stroke="#D95319" stroke-width="11.5"/>
<circle cx="1330.90" cy="895.00" r="8.3" fill="#D95319"/>
<line x1="1296.40" y1="928.60" x2="1339.00" y2="928.60" stroke="#EDB120" stroke-width="11.5"/>
<circle cx="1330.90" cy="928.60" r="8.3" fill="#EDB120"/>
<path d="M1329.80,955.30 L1331.06,959.17 L1335.13,959.17 L1331.83,961.56 L1333.09,965.43 L1329.80,963.04 L1326.51,965.43 L1327.77,961.56 L1324.47,959.17 L1328.54,959.17Z" fill="none" stroke="#000" stroke-width="1.6" stroke-linejoin="round"/>
<rect x="509.40" y="1612.80" width="606.30" height="572.80" fill="none" stroke="#262626" stroke-width="2.0"/>
<path d="M509.40,2185.60V2179.60M509.40,1612.80V1618.80M630.66,2185.60V2179.60M630.66,1612.80V1618.80M751.92,2185.60V2179.60M751.92,1612.80V1618.80M873.18,2185.60V2179.60M873.18,1612.80V1618.80M994.44,2185.60V2179.60M994.44,1612.80V1618.80M1115.70,2185.60V2179.60M1115.70,1612.80V1618.80M509.40,2185.60H515.40M1115.70,2185.60H1109.70M509.40,2114.00H515.40M1115.70,2114.00H1109.70M509.40,2042.40H515.40M1115.70,2042.40H1109.70M509.40,1970.80H515.40M1115.70,1970.80H1109.70M509.40,1899.20H515.40M1115.70,1899.20H1109.70M509.40,1827.60H515.40M1115.70,1827.60H1109.70M509.40,1756.00H515.40M1115.70,1756.00H1109.70M509.40,1684.40H515.40M1115.70,1684.40H1109.70M509.40,1612.80H515.40M1115.70,1612.80H1109.70" stroke="#262626" stroke-width="2.0" fill="none"/>
<polyline points="509.40,1683.20 539.72,1856.50 570.03,1907.80 600.35,1941.10 630.66,1965.30 660.98,1985.30 691.29,2000.30 721.61,2015.00 751.92,2027.10 782.24,2037.90 812.55,2048.60 842.87,2058.70 873.18,2064.50 903.50,2069.50 933.81,2077.20 964.12,2082.50 994.44,2086.60 1024.76,2092.70 1055.07,2097.80 1085.38,2101.60 1115.70,2107.20" fill="none" stroke="#0072BD" stroke-width="12.54" stroke-dasharray="43.89 39.71" stroke-linecap="butt" stroke-linejoin="miter"/>
<circle cx="509.40" cy="1683.20" r="8.36" fill="#0072BD"/>
<circle cx="539.72" cy="1856.50" r="8.36" fill="#0072BD"/>
<circle cx="570.03" cy="1907.80" r="8.36" fill="#0072BD"/>
<circle cx="600.35" cy="1941.10" r="8.36" fill="#0072BD"/>
<circle cx="630.66" cy="1965.30" r="8.36" fill="#0072BD"/>
<circle cx="660.98" cy="1985.30" r="8.36" fill="#0072BD"/>
<circle cx="691.29" cy="2000.30" r="8.36" fill="#0072BD"/>
<circle cx="721.61" cy="2015.00" r="8.36" fill="#0072BD"/>
<circle cx="751.92" cy="2027.10" r="8.36" fill="#0072BD"/>
<circle cx="782.24" cy="2037.90" r="8.36" fill="#0072BD"/>
<circle cx="812.55" cy="2048.60" r="8.36" fill="#0072BD"/>
<circle cx="842.87" cy="2058.70" r="8.36" fill="#0072BD"/>
<circle cx="873.18" cy="2064.50" r="8.36" fill="#0072BD"/>
<circle cx="903.50" cy="2069.50" r="8.36" fill="#0072BD"/>
<circle cx="933.81" cy="2077.20" r="8.36" fill="#0072BD"/>
<circle cx="964.12" cy="2082.50" r="8.36" fill="#0072BD"/>
<circle cx="994.44" cy="2086.60" r="8.36" fill="#0072BD"/>
<circle cx="1024.76" cy="2092.70" r="8.36" fill="#0072BD"/>
<circle cx="1055.07" cy="2097.80" r="8.36" fill="#0072BD"/>
<circle cx="1085.38" cy="2101.60" r="8.36" fill="#0072BD"/>
<circle cx="1115.70" cy="2107.20" r="8.36" fill="#0072BD"/>
<polyline points="509.40,1683.20 539.72,1789.40 570.03,1844.20 600.35,1883.60 630.66,1915.70 660.98,1942.90 691.29,1966.30 721.61,1986.80 751.92,2004.90 782.24,2021.00 812.55,2035.20 842.87,2048.00 873.18,2063.00 903.50,2069.50 933.81,2079.50 964.12,2087.00 994.44,2095.30 1024.76,2105.00 1055.07,2113.50 1085.38,2119.20 1115.70,2126.70" fill="none" stroke="#D95319" stroke-width="12.54" stroke-dasharray="43.89 39.71" stroke-linecap="butt" stroke-linejoin="miter"/>
<circle cx="509.40" cy="1683.20" r="8.36" fill="#D95319"/>
<circle cx="539.72" cy="1789.40" r="8.36" fill="#D95319"/>
<circle cx="570.03" cy="1844.20" r="8.36" fill="#D95319"/>
<circle cx="600.35" cy="1883.60" r="8.36" fill="#D95319"/>
<circle cx="630.66" cy="1915.70" r="8.36" fill="#D95319"/>
<circle cx="660.98" cy="1942.90" r="8.36" fill="#D95319"/>
<circle cx="691.29" cy="1966.30" r="8.36" fill="#D95319"/>
<circle cx="721.61" cy="1986.80" r="8.36" fill="#D95319"/>
<circle cx="751.92" cy="2004.90" r="8.36" fill="#D95319"/>
<circle cx="782.24" cy="2021.00" r="8.36" fill="#D95319"/>
<circle cx="812.55" cy="2035.20" r="8.36" fill="#D95319"/>
<circle cx="842.87" cy="2048.00" r="8.36" fill="#D95319"/>
<circle cx="873.18" cy="2063.00" r="8.36" fill="#D95319"/>
<circle cx="903.50" cy="2069.50" r="8.36" fill="#D95319"/>
<circle cx="933.81" cy="2079.50" r="8.36" fill="#D95319"/>
<circle cx="964.12" cy="2087.00" r="8.36" fill="#D95319"/>
<circle cx="994.44" cy="2095.30" r="8.36" fill="#D95319"/>
<circle cx="1024.76" cy="2105.00" r="8.36" fill="#D95319"/>
<circle cx="1055.07" cy="2113.50" r="8.36" fill="#D95319"/>
<circle cx="1085.38" cy="2119.20" r="8.36" fill="#D95319"/>
<circle cx="1115.70" cy="2126.70" r="8.36" fill="#D95319"/>
<polyline points="509.40,1683.20 539.72,1743.20 570.03,1788.90 600.35,1828.70 630.66,1864.00 660.98,1894.50 691.29,1923.50 721.61,1948.40 751.92,1972.60 782.24,1992.80 812.55,2014.30 842.87,2031.10 873.18,2048.80 903.50,2063.50 933.81,2080.00 964.12,2091.00 994.44,2103.40 1024.76,2115.80 1055.07,2126.10 1085.38,2136.20 1115.70,2146.20" fill="none" stroke="#EDB120" stroke-width="12.54" stroke-dasharray="43.89 39.71" stroke-linecap="butt" stroke-linejoin="miter"/>
<circle cx="509.40" cy="1683.20" r="8.36" fill="#EDB120"/>
<circle cx="539.72" cy="1743.20" r="8.36" fill="#EDB120"/>
<circle cx="570.03" cy="1788.90" r="8.36" fill="#EDB120"/>
<circle cx="600.35" cy="1828.70" r="8.36" fill="#EDB120"/>
<circle cx="630.66" cy="1864.00" r="8.36" fill="#EDB120"/>
<circle cx="660.98" cy="1894.50" r="8.36" fill="#EDB120"/>
<circle cx="691.29" cy="1923.50" r="8.36" fill="#EDB120"/>
<circle cx="721.61" cy="1948.40" r="8.36" fill="#EDB120"/>
<circle cx="751.92" cy="1972.60" r="8.36" fill="#EDB120"/>
<circle cx="782.24" cy="1992.80" r="8.36" fill="#EDB120"/>
<circle cx="812.55" cy="2014.30" r="8.36" fill="#EDB120"/>
<circle cx="842.87" cy="2031.10" r="8.36" fill="#EDB120"/>
<circle cx="873.18" cy="2048.80" r="8.36" fill="#EDB120"/>
<circle cx="903.50" cy="2063.50" r="8.36" fill="#EDB120"/>
<circle cx="933.81" cy="2080.00" r="8.36" fill="#EDB120"/>
<circle cx="964.12" cy="2091.00" r="8.36" fill="#EDB120"/>
<circle cx="994.44" cy="2103.40" r="8.36" fill="#EDB120"/>
<circle cx="1024.76" cy="2115.80" r="8.36" fill="#EDB120"/>
<circle cx="1055.07" cy="2126.10" r="8.36" fill="#EDB120"/>
<circle cx="1085.38" cy="2136.20" r="8.36" fill="#EDB120"/>
<circle cx="1115.70" cy="2146.20" r="8.36" fill="#EDB120"/>
<path d="M509.40,1677.56 L510.67,1681.46 L514.77,1681.46 L511.45,1683.87 L512.72,1687.77 L509.40,1685.36 L506.08,1687.77 L507.35,1683.87 L504.03,1681.46 L508.13,1681.46Z M539.72,1850.86 L540.98,1854.76 L545.08,1854.76 L541.77,1857.17 L543.03,1861.07 L539.72,1858.66 L536.40,1861.07 L537.66,1857.17 L534.35,1854.76 L538.45,1854.76Z M570.03,1902.16 L571.30,1906.06 L575.40,1906.06 L572.08,1908.47 L573.35,1912.37 L570.03,1909.96 L566.71,1912.37 L567.98,1908.47 L564.66,1906.06 L568.76,1906.06Z M600.35,1935.46 L601.61,1939.36 L605.71,1939.36 L602.40,1941.77 L603.66,1945.67 L600.35,1943.26 L597.03,1945.67 L598.29,1941.77 L594.98,1939.36 L599.08,1939.36Z M630.66,1959.66 L631.93,1963.56 L636.03,1963.56 L632.71,1965.97 L633.98,1969.87 L630.66,1967.46 L627.34,1969.87 L628.61,1965.97 L625.29,1963.56 L629.39,1963.56Z M660.98,1979.66 L662.24,1983.56 L666.34,1983.56 L663.03,1985.97 L664.29,1989.87 L660.98,1987.46 L657.66,1989.87 L658.92,1985.97 L655.61,1983.56 L659.71,1983.56Z M691.29,1994.66 L692.56,1998.56 L696.66,1998.56 L693.34,2000.97 L694.61,2004.87 L691.29,2002.46 L687.97,2004.87 L689.24,2000.97 L685.92,1998.56 L690.02,1998.56Z M721.61,2009.36 L722.87,2013.26 L726.97,2013.26 L723.66,2015.67 L724.92,2019.57 L721.61,2017.16 L718.29,2019.57 L719.55,2015.67 L716.24,2013.26 L720.34,2013.26Z M751.92,2021.46 L753.19,2025.36 L757.29,2025.36 L753.97,2027.77 L755.24,2031.67 L751.92,2029.26 L748.60,2031.67 L749.87,2027.77 L746.55,2025.36 L750.65,2025.36Z M782.24,2032.26 L783.50,2036.16 L787.60,2036.16 L784.29,2038.57 L785.55,2042.47 L782.24,2040.06 L778.92,2042.47 L780.18,2038.57 L776.87,2036.16 L780.97,2036.16Z M812.55,2042.96 L813.82,2046.86 L817.92,2046.86 L814.60,2049.27 L815.87,2053.17 L812.55,2050.76 L809.23,2053.17 L810.50,2049.27 L807.18,2046.86 L811.28,2046.86Z M842.87,2053.06 L844.13,2056.96 L848.23,2056.96 L844.92,2059.37 L846.18,2063.27 L842.87,2060.86 L839.55,2063.27 L840.81,2059.37 L837.50,2056.96 L841.60,2056.96Z M873.18,2058.86 L874.45,2062.76 L878.55,2062.76 L875.23,2065.17 L876.50,2069.07 L873.18,2066.66 L869.86,2069.07 L871.13,2065.17 L867.81,2062.76 L871.91,2062.76Z M903.50,2063.86 L904.76,2067.76 L908.86,2067.76 L905.55,2070.17 L906.81,2074.07 L903.50,2071.66 L900.18,2074.07 L901.44,2070.17 L898.13,2067.76 L902.23,2067.76Z M933.81,2071.56 L935.08,2075.46 L939.18,2075.46 L935.86,2077.87 L937.13,2081.77 L933.81,2079.36 L930.49,2081.77 L931.76,2077.87 L928.44,2075.46 L932.54,2075.46Z M964.12,2076.86 L965.39,2080.76 L969.49,2080.76 L966.18,2083.17 L967.44,2087.07 L964.12,2084.66 L960.81,2087.07 L962.07,2083.17 L958.76,2080.76 L962.86,2080.76Z M994.44,2080.96 L995.71,2084.86 L999.81,2084.86 L996.49,2087.27 L997.76,2091.17 L994.44,2088.76 L991.12,2091.17 L992.39,2087.27 L989.07,2084.86 L993.17,2084.86Z M1024.76,2087.06 L1026.02,2090.96 L1030.12,2090.96 L1026.81,2093.37 L1028.07,2097.27 L1024.76,2094.86 L1021.44,2097.27 L1022.70,2093.37 L1019.39,2090.96 L1023.49,2090.96Z M1055.07,2092.16 L1056.34,2096.06 L1060.44,2096.06 L1057.12,2098.47 L1058.39,2102.37 L1055.07,2099.96 L1051.75,2102.37 L1053.02,2098.47 L1049.70,2096.06 L1053.80,2096.06Z M1085.38,2095.96 L1086.65,2099.86 L1090.75,2099.86 L1087.44,2102.27 L1088.70,2106.17 L1085.38,2103.76 L1082.07,2106.17 L1083.33,2102.27 L1080.02,2099.86 L1084.12,2099.86Z M1115.70,2101.56 L1116.97,2105.46 L1121.07,2105.46 L1117.75,2107.87 L1119.02,2111.77 L1115.70,2109.36 L1112.38,2111.77 L1113.65,2107.87 L1110.33,2105.46 L1114.43,2105.46Z" fill="none" stroke="#000" stroke-width="1.6" stroke-linejoin="round"/>
<path d="M509.40,1677.56 L510.67,1681.46 L514.77,1681.46 L511.45,1683.87 L512.72,1687.77 L509.40,1685.36 L506.08,1687.77 L507.35,1683.87 L504.03,1681.46 L508.13,1681.46Z M539.72,1783.76 L540.98,1787.66 L545.08,1787.66 L541.77,1790.07 L543.03,1793.97 L539.72,1791.56 L536.40,1793.97 L537.66,1790.07 L534.35,1787.66 L538.45,1787.66Z M570.03,1838.56 L571.30,1842.46 L575.40,1842.46 L572.08,1844.87 L573.35,1848.77 L570.03,1846.36 L566.71,1848.77 L567.98,1844.87 L564.66,1842.46 L568.76,1842.46Z M600.35,1877.96 L601.61,1881.86 L605.71,1881.86 L602.40,1884.27 L603.66,1888.17 L600.35,1885.76 L597.03,1888.17 L598.29,1884.27 L594.98,1881.86 L599.08,1881.86Z M630.66,1910.06 L631.93,1913.96 L636.03,1913.96 L632.71,1916.37 L633.98,1920.27 L630.66,1917.86 L627.34,1920.27 L628.61,1916.37 L625.29,1913.96 L629.39,1913.96Z M660.98,1937.26 L662.24,1941.16 L666.34,1941.16 L663.03,1943.57 L664.29,1947.47 L660.98,1945.06 L657.66,1947.47 L658.92,1943.57 L655.61,1941.16 L659.71,1941.16Z M691.29,1960.66 L692.56,1964.56 L696.66,1964.56 L693.34,1966.97 L694.61,1970.87 L691.29,1968.46 L687.97,1970.87 L689.24,1966.97 L685.92,1964.56 L690.02,1964.56Z M721.61,1981.16 L722.87,1985.06 L726.97,1985.06 L723.66,1987.47 L724.92,1991.37 L721.61,1988.96 L718.29,1991.37 L719.55,1987.47 L716.24,1985.06 L720.34,1985.06Z M751.92,1999.26 L753.19,2003.16 L757.29,2003.16 L753.97,2005.57 L755.24,2009.47 L751.92,2007.06 L748.60,2009.47 L749.87,2005.57 L746.55,2003.16 L750.65,2003.16Z M782.24,2015.36 L783.50,2019.26 L787.60,2019.26 L784.29,2021.67 L785.55,2025.57 L782.24,2023.16 L778.92,2025.57 L780.18,2021.67 L776.87,2019.26 L780.97,2019.26Z M812.55,2029.56 L813.82,2033.46 L817.92,2033.46 L814.60,2035.87 L815.87,2039.77 L812.55,2037.36 L809.23,2039.77 L810.50,2035.87 L807.18,2033.46 L811.28,2033.46Z M842.87,2042.36 L844.13,2046.26 L848.23,2046.26 L844.92,2048.67 L846.18,2052.57 L842.87,2050.16 L839.55,2052.57 L840.81,2048.67 L837.50,2046.26 L841.60,2046.26Z M873.18,2057.36 L874.45,2061.26 L878.55,2061.26 L875.23,2063.67 L876.50,2067.57 L873.18,2065.16 L869.86,2067.57 L871.13,2063.67 L867.81,2061.26 L871.91,2061.26Z M903.50,2063.86 L904.76,2067.76 L908.86,2067.76 L905.55,2070.17 L906.81,2074.07 L903.50,2071.66 L900.18,2074.07 L901.44,2070.17 L898.13,2067.76 L902.23,2067.76Z M933.81,2073.86 L935.08,2077.76 L939.18,2077.76 L935.86,2080.17 L937.13,2084.07 L933.81,2081.66 L930.49,2084.07 L931.76,2080.17 L928.44,2077.76 L932.54,2077.76Z M964.12,2081.36 L965.39,2085.26 L969.49,2085.26 L966.18,2087.67 L967.44,2091.57 L964.12,2089.16 L960.81,2091.57 L962.07,2087.67 L958.76,2085.26 L962.86,2085.26Z M994.44,2089.66 L995.71,2093.56 L999.81,2093.56 L996.49,2095.97 L997.76,2099.87 L994.44,2097.46 L991.12,2099.87 L992.39,2095.97 L989.07,2093.56 L993.17,2093.56Z M1024.76,2099.36 L1026.02,2103.26 L1030.12,2103.26 L1026.81,2105.67 L1028.07,2109.57 L1024.76,2107.16 L1021.44,2109.57 L1022.70,2105.67 L1019.39,2103.26 L1023.49,2103.26Z M1055.07,2107.86 L1056.34,2111.76 L1060.44,2111.76 L1057.12,2114.17 L1058.39,2118.07 L1055.07,2115.66 L1051.75,2118.07 L1053.02,2114.17 L1049.70,2111.76 L1053.80,2111.76Z M1085.38,2113.56 L1086.65,2117.46 L1090.75,2117.46 L1087.44,2119.87 L1088.70,2123.77 L1085.38,2121.36 L1082.07,2123.77 L1083.33,2119.87 L1080.02,2117.46 L1084.12,2117.46Z M1115.70,2121.06 L1116.97,2124.96 L1121.07,2124.96 L1117.75,2127.37 L1119.02,2131.27 L1115.70,2128.86 L1112.38,2131.27 L1113.65,2127.37 L1110.33,2124.96 L1114.43,2124.96Z" fill="none" stroke="#000" stroke-width="1.6" stroke-linejoin="round"/>
<path d="M509.40,1677.56 L510.67,1681.46 L514.77,1681.46 L511.45,1683.87 L512.72,1687.77 L509.40,1685.36 L506.08,1687.77 L507.35,1683.87 L504.03,1681.46 L508.13,1681.46Z M539.72,1737.56 L540.98,1741.46 L545.08,1741.46 L541.77,1743.87 L543.03,1747.77 L539.72,1745.36 L536.40,1747.77 L537.66,1743.87 L534.35,1741.46 L538.45,1741.46Z M570.03,1783.26 L571.30,1787.16 L575.40,1787.16 L572.08,1789.57 L573.35,1793.47 L570.03,1791.06 L566.71,1793.47 L567.98,1789.57 L564.66,1787.16 L568.76,1787.16Z M600.35,1823.06 L601.61,1826.96 L605.71,1826.96 L602.40,1829.37 L603.66,1833.27 L600.35,1830.86 L597.03,1833.27 L598.29,1829.37 L594.98,1826.96 L599.08,1826.96Z M630.66,1858.36 L631.93,1862.26 L636.03,1862.26 L632.71,1864.67 L633.98,1868.57 L630.66,1866.16 L627.34,1868.57 L628.61,1864.67 L625.29,1862.26 L629.39,1862.26Z M660.98,1888.86 L662.24,1892.76 L666.34,1892.76 L663.03,1895.17 L664.29,1899.07 L660.98,1896.66 L657.66,1899.07 L658.92,1895.17 L655.61,1892.76 L659.71,1892.76Z M691.29,1917.86 L692.56,1921.76 L696.66,1921.76 L693.34,1924.17 L694.61,1928.07 L691.29,1925.66 L687.97,1928.07 L689.24,1924.17 L685.92,1921.76 L690.02,1921.76Z M721.61,1942.76 L722.87,1946.66 L726.97,1946.66 L723.66,1949.07 L724.92,1952.97 L721.61,1950.56 L718.29,1952.97 L719.55,1949.07 L716.24,1946.66 L720.34,1946.66Z M751.92,1966.96 L753.19,1970.86 L757.29,1970.86 L753.97,1973.27 L755.24,1977.17 L751.92,1974.76 L748.60,1977.17 L749.87,1973.27 L746.55,1970.86 L750.65,1970.86Z M782.24,1987.16 L783.50,1991.06 L787.60,1991.06 L784.29,1993.47 L785.55,1997.37 L782.24,1994.96 L778.92,1997.37 L780.18,1993.47 L776.87,1991.06 L780.97,1991.06Z M812.55,2008.66 L813.82,2012.56 L817.92,2012.56 L814.60,2014.97 L815.87,2018.87 L812.55,2016.46 L809.23,2018.87 L810.50,2014.97 L807.18,2012.56 L811.28,2012.56Z M842.87,2025.46 L844.13,2029.36 L848.23,2029.36 L844.92,2031.77 L846.18,2035.67 L842.87,2033.26 L839.55,2035.67 L840.81,2031.77 L837.50,2029.36 L841.60,2029.36Z M873.18,2043.16 L874.45,2047.06 L878.55,2047.06 L875.23,2049.47 L876.50,2053.37 L873.18,2050.96 L869.86,2053.37 L871.13,2049.47 L867.81,2047.06 L871.91,2047.06Z M903.50,2057.86 L904.76,2061.76 L908.86,2061.76 L905.55,2064.17 L906.81,2068.07 L903.50,2065.66 L900.18,2068.07 L901.44,2064.17 L898.13,2061.76 L902.23,2061.76Z M933.81,2074.36 L935.08,2078.26 L939.18,2078.26 L935.86,2080.67 L937.13,2084.57 L933.81,2082.16 L930.49,2084.57 L931.76,2080.67 L928.44,2078.26 L932.54,2078.26Z M964.12,2085.36 L965.39,2089.26 L969.49,2089.26 L966.18,2091.67 L967.44,2095.57 L964.12,2093.16 L960.81,2095.57 L962.07,2091.67 L958.76,2089.26 L962.86,2089.26Z M994.44,2097.76 L995.71,2101.66 L999.81,2101.66 L996.49,2104.07 L997.76,2107.97 L994.44,2105.56 L991.12,2107.97 L992.39,2104.07 L989.07,2101.66 L993.17,2101.66Z M1024.76,2110.16 L1026.02,2114.06 L1030.12,2114.06 L1026.81,2116.47 L1028.07,2120.37 L1024.76,2117.96 L1021.44,2120.37 L1022.70,2116.47 L1019.39,2114.06 L1023.49,2114.06Z M1055.07,2120.46 L1056.34,2124.36 L1060.44,2124.36 L1057.12,2126.77 L1058.39,2130.67 L1055.07,2128.26 L1051.75,2130.67 L1053.02,2126.77 L1049.70,2124.36 L1053.80,2124.36Z M1085.38,2130.56 L1086.65,2134.46 L1090.75,2134.46 L1087.44,2136.87 L1088.70,2140.77 L1085.38,2138.36 L1082.07,2140.77 L1083.33,2136.87 L1080.02,2134.46 L1084.12,2134.46Z M1115.70,2140.56 L1116.97,2144.46 L1121.07,2144.46 L1117.75,2146.87 L1119.02,2150.77 L1115.70,2148.36 L1112.38,2150.77 L1113.65,2146.87 L1110.33,2144.46 L1114.43,2144.46Z" fill="none" stroke="#000" stroke-width="1.6" stroke-linejoin="round"/>
<rect x="927.40" y="1631.80" width="170.00" height="140.30" fill="#fff" stroke="#262626" stroke-width="1.5"/>
<line x1="934.30" y1="1651.00" x2="976.90" y2="1651.00" stroke="#0072BD" stroke-width="11.5"/>
<circle cx="969.60" cy="1651.00" r="8.3" fill="#0072BD"/>
<line x1="934.30" y1="1684.30" x2="976.90" y2="1684.30" stroke="#D95319" stroke-width="11.5"/>
<circle cx="969.60" cy="1684.30" r="8.3" fill="#D95319"/>
<line x1="934.30" y1="1719.40" x2="976.90" y2="1719.40" stroke="#EDB120" stroke-width="11.5"/>
<circle cx="969.60" cy="1719.40" r="8.3" fill="#EDB120"/>
<path d="M968.30,1746.70 L969.56,1750.57 L973.63,1750.57 L970.33,1752.96 L971.59,1756.83 L968.30,1754.44 L965.01,1756.83 L966.27,1752.96 L962.97,1750.57 L967.04,1750.57Z" fill="none" stroke="#000" stroke-width="1.6" stroke-linejoin="round"/>
<text x="76.89" y="628.80" textLength="14.22" lengthAdjust="spacingAndGlyphs" font-family="Liberation Sans" font-weight="bold" font-style="normal" font-size="27.50" fill="#262626">0</text>
<text x="189.94" y="628.80" textLength="35.55" lengthAdjust="spacingAndGlyphs" font-family="Liberation Sans" font-weight="bold" font-style="normal" font-size="27.50" fill="#262626">0.2</text>
<text x="313.66" y="628.80" textLength="35.55" lengthAdjust="spacingAndGlyphs" font-family="Liberation Sans" font-weight="bold" font-style="normal" font-size="27.50" fill="#262626">0.4</text>
<text x="437.38" y="628.80" textLength="35.55" lengthAdjust="spacingAndGlyphs" font-family="Liberation Sans" font-weight="bold" font-style="normal" font-size="27.50" fill="#262626">0.6</text>
<text x="561.10" y="628.80" textLength="35.55" lengthAdjust="spacingAndGlyphs" font-family="Liberation Sans" font-weight="bold" font-style="normal" font-size="27.50" fill="#262626">0.8</text>
<text x="695.49" y="628.80" textLength="14.22" lengthAdjust="spacingAndGlyphs" font-family="Liberation Sans" font-weight="bold" font-style="normal" font-size="27.50" fill="#262626">1</text>
<text x="35.25" y="600.10" textLength="35.55" lengthAdjust="spacingAndGlyphs" font-family="Liberation Sans" font-weight="bold" font-style="normal" font-size="27.50" fill="#262626">0.2</text>
<text x="35.25" y="508.02" textLength="35.55" lengthAdjust="spacingAndGlyphs" font-family="Liberation Sans" font-weight="bold" font-style="normal" font-size="27.50" fill="#262626">0.4</text>
<text x="35.25" y="415.93" textLength="35.55" lengthAdjust="spacingAndGlyphs" font-family="Liberation Sans" font-weight="bold" font-style="normal" font-size="27.50" fill="#262626">0.6</text>
<text x="35.25" y="323.85" textLength="35.55" lengthAdjust="spacingAndGlyphs" font-family="Liberation Sans" font-weight="bold" font-style="normal" font-size="27.50" fill="#262626">0.8</text>
<text x="56.58" y="231.77" textLength="14.22" lengthAdjust="spacingAndGlyphs" font-family="Liberation Sans" font-weight="bold" font-style="normal" font-size="27.50" fill="#262626">1</text>
<text x="35.25" y="139.68" textLength="35.55" lengthAdjust="spacingAndGlyphs" font-family="Liberation Sans" font-weight="bold" font-style="normal" font-size="27.50" fill="#262626">1.2</text>
<text x="35.25" y="47.60" textLength="35.55" lengthAdjust="spacingAndGlyphs" font-family="Liberation Sans" font-weight="bold" font-style="normal" font-size="27.50" fill="#262626">1.4</text>
<text x="600.69" y="82.40" textLength="73.56" lengthAdjust="spacingAndGlyphs" font-family="Liberation Sans" font-weight="bold" font-style="normal" font-size="22.80" fill="#000">Case 1</text>
<text x="600.68" y="116.60" textLength="73.79" lengthAdjust="spacingAndGlyphs" font-family="Liberation Sans" font-weight="bold" font-style="normal" font-size="22.80" fill="#000">Case 2</text>
<text x="600.68" y="148.00" textLength="73.79" lengthAdjust="spacingAndGlyphs" font-family="Liberation Sans" font-weight="bold" font-style="normal" font-size="22.80" fill="#000">Case 3</text>
<text x="600.25" y="182.60" textLength="36.31" lengthAdjust="spacingAndGlyphs" font-family="Liberation Sans" font-weight="bold" font-style="normal" font-size="22.80" fill="#000">Ref</text>
<text x="308.84" y="23.70" textLength="169.02" lengthAdjust="spacingAndGlyphs" font-family="Liberation Sans" font-weight="bold" font-style="normal" font-size="31.00" fill="#000">Comparison</text>
<text x="349.27" y="667.80" textLength="86.68" lengthAdjust="spacingAndGlyphs" font-family="Liberation Sans" font-weight="bold" font-style="normal" font-size="30.80" fill="#262626">Inputs</text>
<text transform="translate(20.90,361.70) rotate(-90)" x="0.00" y="0" textLength="95.89" lengthAdjust="spacingAndGlyphs" font-family="Liberation Sans" font-weight="bold" font-style="normal" font-size="30.80" fill="#262626">Values</text>
<text x="249.06" y="740.00" textLength="45.40" lengthAdjust="spacingAndGlyphs" font-family="Liberation Serif" font-weight="normal" font-style="normal" font-size="40.50" fill="#000">(a)</text>
<text x="304.49" y="740.00" textLength="129.74" lengthAdjust="spacingAndGlyphs" font-family="Liberation Serif" font-weight="normal" font-style="normal" font-size="40.50" fill="#000">Results:</text>
<text x="445.03" y="740.00" textLength="22.30" lengthAdjust="spacingAndGlyphs" font-family="Liberation Serif" font-weight="normal" font-style="italic" font-size="40.50" fill="#000">C</text>
<text x="471.50" y="740.00" textLength="15.58" lengthAdjust="spacingAndGlyphs" font-family="Liberation Serif" font-weight="normal" font-style="normal" font-size="40.50" fill="#000">(</text>
<text x="487.22" y="740.00" textLength="13.58" lengthAdjust="spacingAndGlyphs" font-family="Liberation Serif" font-weight="normal" font-style="italic" font-size="40.50" fill="#000">t</text>
<text x="502.81" y="740.00" textLength="16.18" lengthAdjust="spacingAndGlyphs" font-family="Liberation Serif" font-weight="normal" font-style="normal" font-size="40.50" fill="#000">)</text>
<text x="832.89" y="628.20" textLength="14.22" lengthAdjust="spacingAndGlyphs" font-family="Liberation Sans" font-weight="bold" font-style="normal" font-size="27.50" fill="#262626">0</text>
<text x="946.94" y="628.20" textLength="35.55" lengthAdjust="spacingAndGlyphs" font-family="Liberation Sans" font-weight="bold" font-style="normal" font-size="27.50" fill="#262626">0.2</text>
<text x="1071.66" y="628.20" textLength="35.55" lengthAdjust="spacingAndGlyphs" font-family="Liberation Sans" font-weight="bold" font-style="normal" font-size="27.50" fill="#262626">0.4</text>
<text x="1196.38" y="628.20" textLength="35.55" lengthAdjust="spacingAndGlyphs" font-family="Liberation Sans" font-weight="bold" font-style="normal" font-size="27.50" fill="#262626">0.6</text>
<text x="1321.10" y="628.20" textLength="35.55" lengthAdjust="spacingAndGlyphs" font-family="Liberation Sans" font-weight="bold" font-style="normal" font-size="27.50" fill="#262626">0.8</text>
<text x="1456.49" y="628.20" textLength="14.22" lengthAdjust="spacingAndGlyphs" font-family="Liberation Sans" font-weight="bold" font-style="normal" font-size="27.50" fill="#262626">1</text>
<text x="791.25" y="599.00" textLength="35.55" lengthAdjust="spacingAndGlyphs" font-family="Liberation Sans" font-weight="bold" font-style="normal" font-size="27.50" fill="#262626">0.6</text>
<text x="791.25" y="507.15" textLength="35.55" lengthAdjust="spacingAndGlyphs" font-family="Liberation Sans" font-weight="bold" font-style="normal" font-size="27.50" fill="#262626">0.7</text>
<text x="791.25" y="415.30" textLength="35.55" lengthAdjust="spacingAndGlyphs" font-family="Liberation Sans" font-weight="bold" font-style="normal" font-size="27.50" fill="#262626">0.8</text>
<text x="791.25" y="323.45" textLength="35.55" lengthAdjust="spacingAndGlyphs" font-family="Liberation Sans" font-weight="bold" font-style="normal" font-size="27.50" fill="#262626">0.9</text>
<text x="812.58" y="231.60" textLength="14.22" lengthAdjust="spacingAndGlyphs" font-family="Liberation Sans" font-weight="bold" font-style="normal" font-size="27.50" fill="#262626">1</text>
<text x="791.25" y="139.75" textLength="35.55" lengthAdjust="spacingAndGlyphs" font-family="Liberation Sans" font-weight="bold" font-style="normal" font-size="27.50" fill="#262626">1.1</text>
<text x="791.25" y="47.90" textLength="35.55" lengthAdjust="spacingAndGlyphs" font-family="Liberation Sans" font-weight="bold" font-style="normal" font-size="27.50" fill="#262626">1.2</text>
<text x="1358.06" y="83.30" textLength="75.49" lengthAdjust="spacingAndGlyphs" font-family="Liberation Sans" font-weight="bold" font-style="normal" font-size="23.40" fill="#000">Case 1</text>
<text x="1358.06" y="118.40" textLength="75.73" lengthAdjust="spacingAndGlyphs" font-family="Liberation Sans" font-weight="bold" font-style="normal" font-size="23.40" fill="#000">Case 2</text>
<text x="1358.06" y="151.10" textLength="75.73" lengthAdjust="spacingAndGlyphs" font-family="Liberation Sans" font-weight="bold" font-style="normal" font-size="23.40" fill="#000">Case 3</text>
<text x="1357.61" y="185.60" textLength="37.26" lengthAdjust="spacingAndGlyphs" font-family="Liberation Sans" font-weight="bold" font-style="normal" font-size="23.40" fill="#000">Ref</text>
<text x="1065.40" y="23.70" textLength="175.43" lengthAdjust="spacingAndGlyphs" font-family="Liberation Sans" font-weight="bold" font-style="normal" font-size="31.00" fill="#000">Comparison</text>
<text x="1108.12" y="667.80" textLength="88.85" lengthAdjust="spacingAndGlyphs" font-family="Liberation Sans" font-weight="bold" font-style="normal" font-size="30.80" fill="#262626">Inputs</text>
<text transform="translate(775.90,360.80) rotate(-90)" x="0.00" y="0" textLength="96.80" lengthAdjust="spacingAndGlyphs" font-family="Liberation Sans" font-weight="bold" font-style="normal" font-size="30.80" fill="#262626">Values</text>
<text x="1015.13" y="740.00" textLength="39.84" lengthAdjust="spacingAndGlyphs" font-family="Liberation Serif" font-weight="normal" font-style="normal" font-size="35.50" fill="#000">(b)</text>
<text x="1064.80" y="740.00" textLength="128.91" lengthAdjust="spacingAndGlyphs" font-family="Liberation Serif" font-weight="normal" font-style="normal" font-size="40.50" fill="#000">Results:</text>
<text x="1206.14" y="740.00" textLength="11.21" lengthAdjust="spacingAndGlyphs" font-family="Liberation Serif" font-weight="normal" font-style="italic" font-size="40.50" fill="#000">I</text>
<text x="1223.42" y="740.00" textLength="12.49" lengthAdjust="spacingAndGlyphs" font-family="Liberation Serif" font-weight="normal" font-style="normal" font-size="40.50" fill="#000">(</text>
<text x="1235.65" y="740.00" textLength="16.23" lengthAdjust="spacingAndGlyphs" font-family="Liberation Serif" font-weight="normal" font-style="italic" font-size="40.50" fill="#000">t</text>
<text x="1254.78" y="740.00" textLength="15.53" lengthAdjust="spacingAndGlyphs" font-family="Liberation Serif" font-weight="normal" font-style="normal" font-size="40.50" fill="#000">)</text>
<text x="95.59" y="1421.70" textLength="14.22" lengthAdjust="spacingAndGlyphs" font-family="Liberation Sans" font-weight="bold" font-style="normal" font-size="27.50" fill="#262626">0</text>
<text x="208.98" y="1421.70" textLength="35.55" lengthAdjust="spacingAndGlyphs" font-family="Liberation Sans" font-weight="bold" font-style="normal" font-size="27.50" fill="#262626">0.2</text>
<text x="333.04" y="1421.70" textLength="35.55" lengthAdjust="spacingAndGlyphs" font-family="Liberation Sans" font-weight="bold" font-style="normal" font-size="27.50" fill="#262626">0.4</text>
<text x="457.10" y="1421.70" textLength="35.55" lengthAdjust="spacingAndGlyphs" font-family="Liberation Sans" font-weight="bold" font-style="normal" font-size="27.50" fill="#262626">0.6</text>
<text x="581.16" y="1421.70" textLength="35.55" lengthAdjust="spacingAndGlyphs" font-family="Liberation Sans" font-weight="bold" font-style="normal" font-size="27.50" fill="#262626">0.8</text>
<text x="715.89" y="1421.70" textLength="14.22" lengthAdjust="spacingAndGlyphs" font-family="Liberation Sans" font-weight="bold" font-style="normal" font-size="27.50" fill="#262626">1</text>
<text x="53.95" y="1393.50" textLength="35.55" lengthAdjust="spacingAndGlyphs" font-family="Liberation Sans" font-weight="bold" font-style="normal" font-size="27.50" fill="#262626">0.5</text>
<text x="53.95" y="1313.71" textLength="35.55" lengthAdjust="spacingAndGlyphs" font-family="Liberation Sans" font-weight="bold" font-style="normal" font-size="27.50" fill="#262626">0.6</text>
<text x="53.95" y="1233.93" textLength="35.55" lengthAdjust="spacingAndGlyphs" font-family="Liberation Sans" font-weight="bold" font-style="normal" font-size="27.50" fill="#262626">0.7</text>
<text x="53.95" y="1154.14" textLength="35.55" lengthAdjust="spacingAndGlyphs" font-family="Liberation Sans" font-weight="bold" font-style="normal" font-size="27.50" fill="#262626">0.8</text>
<text x="53.95" y="1074.36" textLength="35.55" lengthAdjust="spacingAndGlyphs" font-family="Liberation Sans" font-weight="bold" font-style="normal" font-size="27.50" fill="#262626">0.9</text>
<text x="75.28" y="994.57" textLength="14.22" lengthAdjust="spacingAndGlyphs" font-family="Liberation Sans" font-weight="bold" font-style="normal" font-size="27.50" fill="#262626">1</text>
<text x="53.95" y="914.79" textLength="35.55" lengthAdjust="spacingAndGlyphs" font-family="Liberation Sans" font-weight="bold" font-style="normal" font-size="27.50" fill="#262626">1.1</text>
<text x="53.95" y="835.00" textLength="35.55" lengthAdjust="spacingAndGlyphs" font-family="Liberation Sans" font-weight="bold" font-style="normal" font-size="27.50" fill="#262626">1.2</text>
<text x="617.46" y="869.50" textLength="75.49" lengthAdjust="spacingAndGlyphs" font-family="Liberation Sans" font-weight="bold" font-style="normal" font-size="23.40" fill="#000">Case 1</text>
<text x="617.46" y="903.40" textLength="75.73" lengthAdjust="spacingAndGlyphs" font-family="Liberation Sans" font-weight="bold" font-style="normal" font-size="23.40" fill="#000">Case 2</text>
<text x="617.46" y="934.50" textLength="75.73" lengthAdjust="spacingAndGlyphs" font-family="Liberation Sans" font-weight="bold" font-style="normal" font-size="23.40" fill="#000">Case 3</text>
<text x="617.01" y="968.20" textLength="37.26" lengthAdjust="spacingAndGlyphs" font-family="Liberation Sans" font-weight="bold" font-style="normal" font-size="23.40" fill="#000">Ref</text>
<text x="326.60" y="811.80" textLength="174.92" lengthAdjust="spacingAndGlyphs" font-family="Liberation Sans" font-weight="bold" font-style="normal" font-size="31.00" fill="#000">Comparison</text>
<text x="369.22" y="1460.60" textLength="88.95" lengthAdjust="spacingAndGlyphs" font-family="Liberation Sans" font-weight="bold" font-style="normal" font-size="30.80" fill="#262626">Inputs</text>
<text transform="translate(37.90,1151.80) rotate(-90)" x="0.00" y="0" textLength="94.98" lengthAdjust="spacingAndGlyphs" font-family="Liberation Sans" font-weight="bold" font-style="normal" font-size="30.80" fill="#262626">Values</text>
<text x="284.45" y="1525.90" textLength="45.83" lengthAdjust="spacingAndGlyphs" font-family="Liberation Serif" font-weight="normal" font-style="normal" font-size="40.50" fill="#000">(c)</text>
<text x="339.79" y="1525.90" textLength="130.05" lengthAdjust="spacingAndGlyphs" font-family="Liberation Serif" font-weight="normal" font-style="normal" font-size="40.50" fill="#000">Results:</text>
<text x="481.55" y="1525.90" textLength="22.89" lengthAdjust="spacingAndGlyphs" font-family="Liberation Serif" font-weight="normal" font-style="italic" font-size="40.50" fill="#000">E</text>
<text x="507.44" y="1525.90" textLength="15.76" lengthAdjust="spacingAndGlyphs" font-family="Liberation Serif" font-weight="normal" font-style="normal" font-size="40.50" fill="#000">(</text>
<text x="522.79" y="1525.90" textLength="13.96" lengthAdjust="spacingAndGlyphs" font-family="Liberation Serif" font-weight="normal" font-style="italic" font-size="40.50" fill="#000">t</text>
<text x="539.07" y="1525.90" textLength="16.46" lengthAdjust="spacingAndGlyphs" font-family="Liberation Serif" font-weight="normal" font-style="normal" font-size="40.50" fill="#000">)</text>
<text x="853.29" y="1420.00" textLength="14.22" lengthAdjust="spacingAndGlyphs" font-family="Liberation Sans" font-weight="bold" font-style="normal" font-size="27.50" fill="#262626">0</text>
<text x="965.64" y="1420.00" textLength="35.55" lengthAdjust="spacingAndGlyphs" font-family="Liberation Sans" font-weight="bold" font-style="normal" font-size="27.50" fill="#262626">0.2</text>
<text x="1088.66" y="1420.00" textLength="35.55" lengthAdjust="spacingAndGlyphs" font-family="Liberation Sans" font-weight="bold" font-style="normal" font-size="27.50" fill="#262626">0.4</text>
<text x="1211.68" y="1420.00" textLength="35.55" lengthAdjust="spacingAndGlyphs" font-family="Liberation Sans" font-weight="bold" font-style="normal" font-size="27.50" fill="#262626">0.6</text>
<text x="1334.70" y="1420.00" textLength="35.55" lengthAdjust="spacingAndGlyphs" font-family="Liberation Sans" font-weight="bold" font-style="normal" font-size="27.50" fill="#262626">0.8</text>
<text x="1468.39" y="1420.00" textLength="14.22" lengthAdjust="spacingAndGlyphs" font-family="Liberation Sans" font-weight="bold" font-style="normal" font-size="27.50" fill="#262626">1</text>
<text x="811.65" y="1391.70" textLength="35.55" lengthAdjust="spacingAndGlyphs" font-family="Liberation Sans" font-weight="bold" font-style="normal" font-size="27.50" fill="#262626">0.7</text>
<text x="811.65" y="1280.90" textLength="35.55" lengthAdjust="spacingAndGlyphs" font-family="Liberation Sans" font-weight="bold" font-style="normal" font-size="27.50" fill="#262626">0.8</text>
<text x="811.65" y="1170.10" textLength="35.55" lengthAdjust="spacingAndGlyphs" font-family="Liberation Sans" font-weight="bold" font-style="normal" font-size="27.50" fill="#262626">0.9</text>
<text x="832.98" y="1059.30" textLength="14.22" lengthAdjust="spacingAndGlyphs" font-family="Liberation Sans" font-weight="bold" font-style="normal" font-size="27.50" fill="#262626">1</text>
<text x="811.65" y="948.50" textLength="35.55" lengthAdjust="spacingAndGlyphs" font-family="Liberation Sans" font-weight="bold" font-style="normal" font-size="27.50" fill="#262626">1.1</text>
<text x="811.65" y="837.70" textLength="35.55" lengthAdjust="spacingAndGlyphs" font-family="Liberation Sans" font-weight="bold" font-style="normal" font-size="27.50" fill="#262626">1.2</text>
<text x="1369.76" y="872.70" textLength="75.49" lengthAdjust="spacingAndGlyphs" font-family="Liberation Sans" font-weight="bold" font-style="normal" font-size="23.40" fill="#000">Case 1</text>
<text x="1369.76" y="905.30" textLength="75.73" lengthAdjust="spacingAndGlyphs" font-family="Liberation Sans" font-weight="bold" font-style="normal" font-size="23.40" fill="#000">Case 2</text>
<text x="1369.76" y="937.20" textLength="75.73" lengthAdjust="spacingAndGlyphs" font-family="Liberation Sans" font-weight="bold" font-style="normal" font-size="23.40" fill="#000">Case 3</text>
<text x="1369.31" y="970.40" textLength="37.26" lengthAdjust="spacingAndGlyphs" font-family="Liberation Sans" font-weight="bold" font-style="normal" font-size="23.40" fill="#000">Ref</text>
<text x="1080.70" y="813.70" textLength="174.92" lengthAdjust="spacingAndGlyphs" font-family="Liberation Sans" font-weight="bold" font-style="normal" font-size="31.00" fill="#000">Comparison</text>
<text x="1123.43" y="1460.60" textLength="88.43" lengthAdjust="spacingAndGlyphs" font-family="Liberation Sans" font-weight="bold" font-style="normal" font-size="30.80" fill="#262626">Inputs</text>
<text transform="translate(795.90,1150.80) rotate(-90)" x="0.00" y="0" textLength="94.98" lengthAdjust="spacingAndGlyphs" font-family="Liberation Sans" font-weight="bold" font-style="normal" font-size="30.80" fill="#262626">Values</text>
<text x="1050.41" y="1526.30" textLength="40.59" lengthAdjust="spacingAndGlyphs" font-family="Liberation Serif" font-weight="normal" font-style="normal" font-size="35.50" fill="#000">(d)</text>
<text x="1099.79" y="1526.30" textLength="130.05" lengthAdjust="spacingAndGlyphs" font-family="Liberation Serif" font-weight="normal" font-style="normal" font-size="40.50" fill="#000">Results:</text>
<text x="1241.74" y="1526.30" textLength="11.30" lengthAdjust="spacingAndGlyphs" font-family="Liberation Serif" font-weight="normal" font-style="italic" font-size="40.50" fill="#000">I</text>
<text x="1259.17" y="1526.30" textLength="12.59" lengthAdjust="spacingAndGlyphs" font-family="Liberation Serif" font-weight="normal" font-style="normal" font-size="40.50" fill="#000">(</text>
<text x="1271.49" y="1526.30" textLength="16.36" lengthAdjust="spacingAndGlyphs" font-family="Liberation Serif" font-weight="normal" font-style="italic" font-size="40.50" fill="#000">t</text>
<text x="1290.77" y="1526.30" textLength="15.65" lengthAdjust="spacingAndGlyphs" font-family="Liberation Serif" font-weight="normal" font-style="normal" font-size="40.50" fill="#000">)</text>
<text x="501.97" y="2227.60" textLength="14.86" lengthAdjust="spacingAndGlyphs" font-family="Liberation Sans" font-weight="bold" font-style="normal" font-size="28.74" fill="#262626">0</text>
<text x="612.08" y="2227.60" textLength="37.15" lengthAdjust="spacingAndGlyphs" font-family="Liberation Sans" font-weight="bold" font-style="normal" font-size="28.74" fill="#262626">0.2</text>
<text x="733.34" y="2227.60" textLength="37.15" lengthAdjust="spacingAndGlyphs" font-family="Liberation Sans" font-weight="bold" font-style="normal" font-size="28.74" fill="#262626">0.4</text>
<text x="854.60" y="2227.60" textLength="37.15" lengthAdjust="spacingAndGlyphs" font-family="Liberation Sans" font-weight="bold" font-style="normal" font-size="28.74" fill="#262626">0.6</text>
<text x="975.86" y="2227.60" textLength="37.15" lengthAdjust="spacingAndGlyphs" font-family="Liberation Sans" font-weight="bold" font-style="normal" font-size="28.74" fill="#262626">0.8</text>
<text x="1108.27" y="2227.60" textLength="14.86" lengthAdjust="spacingAndGlyphs" font-family="Liberation Sans" font-weight="bold" font-style="normal" font-size="28.74" fill="#262626">1</text>
<text x="443.38" y="2197.90" textLength="52.02" lengthAdjust="spacingAndGlyphs" font-family="Liberation Sans" font-weight="bold" font-style="normal" font-size="28.74" fill="#262626">0.85</text>
<text x="458.25" y="2126.30" textLength="37.15" lengthAdjust="spacingAndGlyphs" font-family="Liberation Sans" font-weight="bold" font-style="normal" font-size="28.74" fill="#262626">0.9</text>
<text x="443.38" y="2054.70" textLength="52.02" lengthAdjust="spacingAndGlyphs" font-family="Liberation Sans" font-weight="bold" font-style="normal" font-size="28.74" fill="#262626">0.95</text>
<text x="480.54" y="1983.10" textLength="14.86" lengthAdjust="spacingAndGlyphs" font-family="Liberation Sans" font-weight="bold" font-style="normal" font-size="28.74" fill="#262626">1</text>
<text x="443.38" y="1911.50" textLength="52.02" lengthAdjust="spacingAndGlyphs" font-family="Liberation Sans" font-weight="bold" font-style="normal" font-size="28.74" fill="#262626">1.05</text>
<text x="458.25" y="1839.90" textLength="37.15" lengthAdjust="spacingAndGlyphs" font-family="Liberation Sans" font-weight="bold" font-style="normal" font-size="28.74" fill="#262626">1.1</text>
<text x="443.38" y="1768.30" textLength="52.02" lengthAdjust="spacingAndGlyphs" font-family="Liberation Sans" font-weight="bold" font-style="normal" font-size="28.74" fill="#262626">1.15</text>
<text x="458.25" y="1696.70" textLength="37.15" lengthAdjust="spacingAndGlyphs" font-family="Liberation Sans" font-weight="bold" font-style="normal" font-size="28.74" fill="#262626">1.2</text>
<text x="443.38" y="1625.10" textLength="52.02" lengthAdjust="spacingAndGlyphs" font-family="Liberation Sans" font-weight="bold" font-style="normal" font-size="28.74" fill="#262626">1.25</text>
<text x="1009.14" y="1660.90" textLength="77.43" lengthAdjust="spacingAndGlyphs" font-family="Liberation Sans" font-weight="bold" font-style="normal" font-size="24.00" fill="#000">Case 1</text>
<text x="1009.14" y="1695.60" textLength="77.67" lengthAdjust="spacingAndGlyphs" font-family="Liberation Sans" font-weight="bold" font-style="normal" font-size="24.00" fill="#000">Case 2</text>
<text x="1009.14" y="1728.60" textLength="77.67" lengthAdjust="spacingAndGlyphs" font-family="Liberation Sans" font-weight="bold" font-style="normal" font-size="24.00" fill="#000">Case 3</text>
<text x="1008.68" y="1763.80" textLength="38.22" lengthAdjust="spacingAndGlyphs" font-family="Liberation Sans" font-weight="bold" font-style="normal" font-size="24.00" fill="#000">Ref</text>
<text x="724.28" y="1599.00" textLength="177.67" lengthAdjust="spacingAndGlyphs" font-family="Liberation Sans" font-weight="bold" font-style="normal" font-size="31.00" fill="#000">Comparison</text>
<text x="766.98" y="2268.00" textLength="90.91" lengthAdjust="spacingAndGlyphs" font-family="Liberation Sans" font-weight="bold" font-style="normal" font-size="30.80" fill="#262626">Inputs</text>
<text transform="translate(427.70,1948.90) rotate(-90)" x="0.00" y="0" textLength="99.03" lengthAdjust="spacingAndGlyphs" font-family="Liberation Sans" font-weight="bold" font-style="normal" font-size="30.80" fill="#262626">Values</text>
<text x="678.80" y="2336.00" textLength="38.80" lengthAdjust="spacingAndGlyphs" font-family="Liberation Serif" font-weight="normal" font-style="normal" font-size="34.50" fill="#000">(e)</text>
<text x="726.79" y="2336.00" textLength="131.08" lengthAdjust="spacingAndGlyphs" font-family="Liberation Serif" font-weight="normal" font-style="normal" font-size="40.50" fill="#000">Results:</text>
<text x="865.35" y="2336.00" textLength="22.75" lengthAdjust="spacingAndGlyphs" font-family="Liberation Serif" font-weight="normal" font-style="italic" font-size="40.50" fill="#000">T</text>
<text x="894.07" y="2336.00" textLength="15.54" lengthAdjust="spacingAndGlyphs" font-family="Liberation Serif" font-weight="normal" font-style="normal" font-size="40.50" fill="#000">(</text>
<text x="909.21" y="2336.00" textLength="13.77" lengthAdjust="spacingAndGlyphs" font-family="Liberation Serif" font-weight="normal" font-style="italic" font-size="40.50" fill="#000">t</text>
<text x="925.26" y="2336.00" textLength="16.23" lengthAdjust="spacingAndGlyphs" font-family="Liberation Serif" font-weight="normal" font-style="normal" font-size="40.50" fill="#000">)</text>
</svg></body></html>
